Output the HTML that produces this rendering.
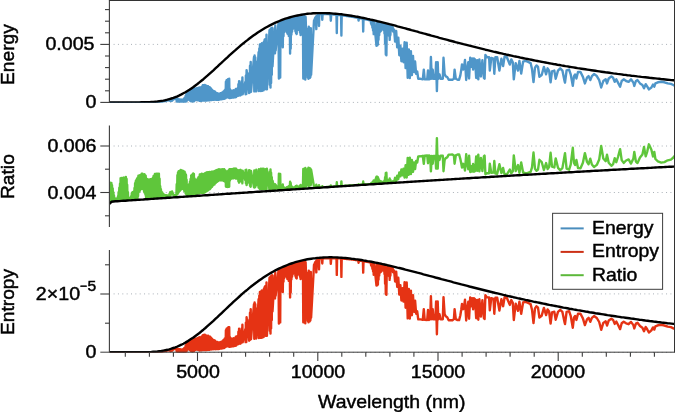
<!DOCTYPE html>
<html><head><meta charset="utf-8"><title>Spectrum</title>
<style>
html,body{margin:0;padding:0;background:#fff;}
body{width:675px;height:412px;overflow:hidden;position:relative;font-family:"Liberation Sans",sans-serif;color:#000;}
svg{position:absolute;left:0;top:0;display:block;}
.t{will-change:transform;-webkit-text-stroke:0.45px #000;position:absolute;white-space:nowrap;line-height:1;font-size:18.6px;}
.r{text-align:right;right:578.8px;transform-origin:100% 50%;transform:scaleX(1.055);}
.c{transform:translateX(-50%) scaleX(1.055);}
.v{transform-origin:0 0;transform:rotate(-90deg) scaleX(1.01);font-size:19.0px;}
.l{font-size:19.0px;transform-origin:0 50%;transform:scaleX(1.024);}
.g{font-size:18.5px;transform-origin:0 50%;transform:scaleX(1.05);}
sup{font-size:14.8px;vertical-align:baseline;position:relative;top:-8.7px;line-height:0;}
</style></head><body>
<svg width="675" height="412" viewBox="0 0 675 412">
<rect width="675" height="412" fill="#fff"/>
<line x1="113.6" x2="675" y1="44.4" y2="44.4" stroke="#aab1b8" stroke-width="1" stroke-dasharray="1 3.35"/>
<line x1="113.6" x2="675" y1="102.4" y2="102.4" stroke="#aab1b8" stroke-width="1" stroke-dasharray="1 3.35"/>
<line x1="113.6" x2="675" y1="146.0" y2="146.0" stroke="#aab1b8" stroke-width="1" stroke-dasharray="1 3.35"/>
<line x1="113.6" x2="675" y1="192.5" y2="192.5" stroke="#aab1b8" stroke-width="1" stroke-dasharray="1 3.35"/>
<line x1="113.6" x2="675" y1="293.9" y2="293.9" stroke="#aab1b8" stroke-width="1" stroke-dasharray="1 3.35"/>
<line x1="113.6" x2="675" y1="352.4" y2="352.4" stroke="#aab1b8" stroke-width="1" stroke-dasharray="1 3.35"/>
<defs><clipPath id="c1"><rect x="109.4" y="0.6" width="565.2" height="102.05"/></clipPath><clipPath id="c2"><rect x="109.4" y="125.6" width="565.2" height="101.4"/></clipPath><clipPath id="c3"><rect x="109.4" y="250" width="565.2" height="102.7"/></clipPath></defs>
<defs><clipPath id="k1"><polygon points="109.4,101.8 111.4,101.8 113.4,101.8 115.4,101.8 117.4,101.8 119.4,101.8 121.4,101.8 123.4,101.8 125.4,101.8 127.4,101.8 129.4,101.8 131.4,101.8 133.4,101.8 135.4,101.8 137.4,101.8 139.4,101.8 141.4,101.7 143.4,101.7 145.4,101.7 147.4,101.6 149.4,101.5 151.4,101.4 153.4,101.3 155.4,101.1 157.4,100.9 159.4,100.6 161.4,100.3 163.4,100.0 165.4,99.6 167.4,99.1 169.4,98.5 171.4,97.9 173.4,97.3 175.4,96.5 177.4,95.7 179.4,94.8 181.4,93.8 183.4,92.7 185.4,91.6 187.4,90.4 189.4,89.2 191.4,87.8 193.4,86.4 195.4,84.9 197.4,83.4 199.4,81.8 201.4,80.2 203.4,78.6 205.4,76.8 207.4,75.1 209.4,73.3 211.4,71.5 213.4,69.7 215.4,67.8 217.4,66.0 219.4,64.1 221.4,62.3 223.4,60.4 225.4,58.5 227.4,56.7 229.4,54.8 231.4,53.0 233.4,51.2 235.4,49.5 237.4,47.7 239.4,46.0 241.4,44.3 243.4,42.7 245.4,41.0 247.4,39.5 249.4,37.9 251.4,36.4 253.4,35.0 255.4,33.6 257.4,32.2 259.4,30.9 261.4,29.6 263.4,28.4 265.4,27.2 267.4,26.1 269.4,25.0 271.4,24.0 273.4,23.0 275.4,22.1 277.4,21.2 279.4,20.4 281.4,19.6 283.4,18.8 285.4,18.1 287.4,17.5 289.4,16.9 291.4,16.3 293.4,15.8 295.4,15.3 297.4,14.9 299.4,14.5 301.4,14.1 303.4,13.8 305.4,13.5 307.4,13.2 309.4,13.0 311.4,12.9 313.4,12.7 315.4,12.6 317.4,12.5 319.4,12.5 321.4,12.5 323.4,12.5 325.4,12.5 327.4,12.6 329.4,12.7 331.4,12.8 333.4,13.0 335.4,13.1 337.4,13.3 339.4,13.5 341.4,13.7 343.4,14.0 345.4,14.3 347.4,14.6 349.4,14.9 351.4,15.2 353.4,15.5 355.4,15.9 357.4,16.2 359.4,16.6 361.4,17.0 363.4,17.4 365.4,17.8 367.4,18.3 369.4,18.7 371.4,19.2 373.4,19.6 375.4,20.1 377.4,20.6 379.4,21.0 381.4,21.5 383.4,22.0 385.4,22.5 387.4,23.0 389.4,23.6 391.4,24.1 393.4,24.6 395.4,25.1 397.4,25.7 399.4,26.2 401.4,26.7 403.4,27.3 405.4,27.8 407.4,28.4 409.4,28.9 411.4,29.5 413.4,30.0 415.4,30.6 417.4,31.1 419.4,31.7 421.4,32.2 423.4,32.8 425.4,33.3 427.4,33.9 429.4,34.4 431.4,35.0 433.4,35.5 435.4,36.1 437.4,36.6 439.4,37.2 441.4,37.7 443.4,38.3 445.4,38.8 447.4,39.3 449.4,39.9 451.4,40.4 453.4,40.9 455.4,41.5 457.4,42.0 459.4,42.5 461.4,43.0 463.4,43.6 465.4,44.1 467.4,44.6 469.4,45.1 471.4,45.6 473.4,46.1 475.4,46.6 477.4,47.1 479.4,47.6 481.4,48.1 483.4,48.6 485.4,49.1 487.4,49.5 489.4,50.0 491.4,50.5 493.4,51.0 495.4,51.4 497.4,51.9 499.4,52.4 501.4,52.8 503.4,53.3 505.4,53.7 507.4,54.2 509.4,54.6 511.4,55.0 513.4,55.5 515.4,55.9 517.4,56.3 519.4,56.7 521.4,57.2 523.4,57.6 525.4,58.0 527.4,58.4 529.4,58.8 531.4,59.2 533.4,59.6 535.4,60.0 537.4,60.4 539.4,60.8 541.4,61.2 543.4,61.5 545.4,61.9 547.4,62.3 549.4,62.7 551.4,63.0 553.4,63.4 555.4,63.7 557.4,64.1 559.4,64.4 561.4,64.8 563.4,65.1 565.4,65.5 567.4,65.8 569.4,66.2 571.4,66.5 573.4,66.8 575.4,67.1 577.4,67.5 579.4,67.8 581.4,68.1 583.4,68.4 585.4,68.7 587.4,69.0 589.4,69.3 591.4,69.6 593.4,69.9 595.4,70.2 597.4,70.5 599.4,70.8 601.4,71.1 603.4,71.4 605.4,71.7 607.4,71.9 609.4,72.2 611.4,72.5 613.4,72.8 615.4,73.0 617.4,73.3 619.4,73.5 621.4,73.8 623.4,74.1 625.4,74.3 627.4,74.6 629.4,74.8 631.4,75.1 633.4,75.3 635.4,75.5 637.4,75.8 639.4,76.0 641.4,76.3 643.4,76.5 645.4,76.7 647.4,76.9 649.4,77.2 651.4,77.4 653.4,77.6 655.4,77.8 657.4,78.0 659.4,78.2 661.4,78.5 663.4,78.7 665.4,78.9 667.4,79.1 669.4,79.3 671.4,79.5 673.4,79.7 675.4,79.9 675.4,120.0 109.4,120.0"/></clipPath><clipPath id="k2"><polygon points="109.4,204.5 111.4,202.4 113.4,202.1 115.4,201.9 117.4,201.8 119.4,201.7 121.4,201.5 123.4,201.4 125.4,201.3 127.4,201.1 129.4,201.0 131.4,200.9 133.4,200.7 135.4,200.6 137.4,200.5 139.4,200.3 141.4,200.2 143.4,200.1 145.4,199.9 147.4,199.8 149.4,199.7 151.4,199.5 153.4,199.4 155.4,199.2 157.4,199.1 159.4,199.0 161.4,198.8 163.4,198.7 165.4,198.6 167.4,198.4 169.4,198.3 171.4,198.2 173.4,198.0 175.4,197.9 177.4,197.8 179.4,197.6 181.4,197.5 183.4,197.4 185.4,197.2 187.4,197.1 189.4,197.0 191.4,196.8 193.4,196.7 195.4,196.6 197.4,196.4 199.4,196.3 201.4,196.2 203.4,196.0 205.4,195.9 207.4,195.8 209.4,195.6 211.4,195.5 213.4,195.4 215.4,195.2 217.4,195.1 219.4,195.0 221.4,194.8 223.4,194.7 225.4,194.5 227.4,194.4 229.4,194.3 231.4,194.1 233.4,194.0 235.4,193.9 237.4,193.7 239.4,193.6 241.4,193.5 243.4,193.3 245.4,193.2 247.4,193.1 249.4,192.9 251.4,192.8 253.4,192.7 255.4,192.5 257.4,192.4 259.4,192.3 261.4,192.1 263.4,192.0 265.4,191.9 267.4,191.7 269.4,191.6 271.4,191.5 273.4,191.3 275.4,191.2 277.4,191.1 279.4,190.9 281.4,190.8 283.4,190.7 285.4,190.5 287.4,190.4 289.4,190.3 291.4,190.1 293.4,190.0 295.4,189.9 297.4,189.7 299.4,189.6 301.4,189.5 303.4,189.3 305.4,189.2 307.4,189.1 309.4,188.9 311.4,188.8 313.4,188.7 315.4,188.5 317.4,188.4 319.4,188.3 321.4,188.2 323.4,188.0 325.4,187.9 327.4,187.8 329.4,187.6 331.4,187.5 333.4,187.4 335.4,187.2 337.4,187.1 339.4,187.0 341.4,186.8 343.4,186.7 345.4,186.6 347.4,186.5 349.4,186.3 351.4,186.2 353.4,186.1 355.4,185.9 357.4,185.8 359.4,185.7 361.4,185.5 363.4,185.4 365.4,185.3 367.4,185.2 369.4,185.0 371.4,184.9 373.4,184.8 375.4,184.6 377.4,184.5 379.4,184.4 381.4,184.3 383.4,184.1 385.4,184.0 387.4,183.9 389.4,183.7 391.4,183.6 393.4,183.5 395.4,183.4 397.4,183.2 399.4,183.1 401.4,183.0 403.4,182.9 405.4,182.7 407.4,182.6 409.4,182.5 411.4,182.3 413.4,182.2 415.4,182.1 417.4,182.0 419.4,181.8 421.4,181.7 423.4,181.6 425.4,181.5 427.4,181.3 429.4,181.2 431.4,181.1 433.4,181.0 435.4,180.8 437.4,180.7 439.4,180.6 441.4,180.5 443.4,180.4 445.4,180.2 447.4,180.1 449.4,180.0 451.4,179.9 453.4,179.7 455.4,179.6 457.4,179.5 459.4,179.4 461.4,179.2 463.4,179.1 465.4,179.0 467.4,178.9 469.4,178.8 471.4,178.6 473.4,178.5 475.4,178.4 477.4,178.3 479.4,178.2 481.4,178.0 483.4,177.9 485.4,177.8 487.4,177.7 489.4,177.6 491.4,177.4 493.4,177.3 495.4,177.2 497.4,177.1 499.4,177.0 501.4,176.8 503.4,176.7 505.4,176.6 507.4,176.5 509.4,176.4 511.4,176.2 513.4,176.1 515.4,176.0 517.4,175.9 519.4,175.8 521.4,175.7 523.4,175.5 525.4,175.4 527.4,175.3 529.4,175.2 531.4,175.1 533.4,175.0 535.4,174.8 537.4,174.7 539.4,174.6 541.4,174.5 543.4,174.4 545.4,174.3 547.4,174.1 549.4,174.0 551.4,173.9 553.4,173.8 555.4,173.7 557.4,173.6 559.4,173.5 561.4,173.3 563.4,173.2 565.4,173.1 567.4,173.0 569.4,172.9 571.4,172.8 573.4,172.7 575.4,172.5 577.4,172.4 579.4,172.3 581.4,172.2 583.4,172.1 585.4,172.0 587.4,171.9 589.4,171.8 591.4,171.6 593.4,171.5 595.4,171.4 597.4,171.3 599.4,171.2 601.4,171.1 603.4,171.0 605.4,170.9 607.4,170.8 609.4,170.6 611.4,170.5 613.4,170.4 615.4,170.3 617.4,170.2 619.4,170.1 621.4,170.0 623.4,169.9 625.4,169.8 627.4,169.7 629.4,169.5 631.4,169.4 633.4,169.3 635.4,169.2 637.4,169.1 639.4,169.0 641.4,168.9 643.4,168.8 645.4,168.7 647.4,168.6 649.4,168.5 651.4,168.4 653.4,168.2 655.4,168.1 657.4,168.0 659.4,167.9 661.4,167.8 663.4,167.7 665.4,167.6 667.4,167.5 669.4,167.4 671.4,167.3 673.4,167.2 675.4,167.1 675.4,110.0 109.4,110.0"/></clipPath><clipPath id="k3"><polygon points="109.4,351.7 111.4,351.7 113.4,351.7 115.4,351.7 117.4,351.7 119.4,351.7 121.4,351.7 123.4,351.7 125.4,351.7 127.4,351.7 129.4,351.7 131.4,351.7 133.4,351.7 135.4,351.7 137.4,351.7 139.4,351.7 141.4,351.7 143.4,351.7 145.4,351.6 147.4,351.6 149.4,351.5 151.4,351.4 153.4,351.2 155.4,351.1 157.4,350.9 159.4,350.6 161.4,350.4 163.4,350.0 165.4,349.6 167.4,349.2 169.4,348.7 171.4,348.1 173.4,347.4 175.4,346.7 177.4,345.9 179.4,345.0 181.4,344.1 183.4,343.1 185.4,342.0 187.4,340.8 189.4,339.5 191.4,338.2 193.4,336.9 195.4,335.4 197.4,333.9 199.4,332.4 201.4,330.7 203.4,329.1 205.4,327.4 207.4,325.6 209.4,323.8 211.4,322.0 213.4,320.2 215.4,318.3 217.4,316.5 219.4,314.6 221.4,312.7 223.4,310.8 225.4,308.9 227.4,307.0 229.4,305.1 231.4,303.2 233.4,301.3 235.4,299.5 237.4,297.7 239.4,295.9 241.4,294.1 243.4,292.3 245.4,290.6 247.4,289.0 249.4,287.3 251.4,285.7 253.4,284.2 255.4,282.6 257.4,281.2 259.4,279.7 261.4,278.3 263.4,277.0 265.4,275.7 267.4,274.4 269.4,273.2 271.4,272.0 273.4,270.9 275.4,269.8 277.4,268.8 279.4,267.8 281.4,266.9 283.4,266.0 285.4,265.2 287.4,264.4 289.4,263.6 291.4,262.9 293.4,262.2 295.4,261.6 297.4,261.0 299.4,260.5 301.4,260.0 303.4,259.5 305.4,259.1 307.4,258.7 309.4,258.4 311.4,258.1 313.4,257.8 315.4,257.6 317.4,257.3 319.4,257.2 321.4,257.0 323.4,256.9 325.4,256.8 327.4,256.8 329.4,256.7 331.4,256.7 333.4,256.8 335.4,256.8 337.4,256.9 339.4,257.0 341.4,257.1 343.4,257.3 345.4,257.4 347.4,257.6 349.4,257.8 351.4,258.1 353.4,258.3 355.4,258.6 357.4,258.8 359.4,259.1 361.4,259.4 363.4,259.8 365.4,260.1 367.4,260.5 369.4,260.8 371.4,261.2 373.4,261.6 375.4,262.0 377.4,262.4 379.4,262.8 381.4,263.2 383.4,263.7 385.4,264.1 387.4,264.6 389.4,265.0 391.4,265.5 393.4,266.0 395.4,266.5 397.4,267.0 399.4,267.4 401.4,267.9 403.4,268.4 405.4,269.0 407.4,269.5 409.4,270.0 411.4,270.5 413.4,271.0 415.4,271.5 417.4,272.1 419.4,272.6 421.4,273.1 423.4,273.7 425.4,274.2 427.4,274.7 429.4,275.3 431.4,275.8 433.4,276.3 435.4,276.9 437.4,277.4 439.4,277.9 441.4,278.5 443.4,279.0 445.4,279.5 447.4,280.1 449.4,280.6 451.4,281.1 453.4,281.7 455.4,282.2 457.4,282.7 459.4,283.2 461.4,283.8 463.4,284.3 465.4,284.8 467.4,285.3 469.4,285.9 471.4,286.4 473.4,286.9 475.4,287.4 477.4,287.9 479.4,288.4 481.4,288.9 483.4,289.4 485.4,289.9 487.4,290.4 489.4,290.9 491.4,291.4 493.4,291.9 495.4,292.4 497.4,292.8 499.4,293.3 501.4,293.8 503.4,294.3 505.4,294.7 507.4,295.2 509.4,295.7 511.4,296.1 513.4,296.6 515.4,297.0 517.4,297.5 519.4,297.9 521.4,298.4 523.4,298.8 525.4,299.3 527.4,299.7 529.4,300.1 531.4,300.5 533.4,301.0 535.4,301.4 537.4,301.8 539.4,302.2 541.4,302.6 543.4,303.0 545.4,303.4 547.4,303.9 549.4,304.3 551.4,304.6 553.4,305.0 555.4,305.4 557.4,305.8 559.4,306.2 561.4,306.6 563.4,307.0 565.4,307.3 567.4,307.7 569.4,308.1 571.4,308.4 573.4,308.8 575.4,309.1 577.4,309.5 579.4,309.8 581.4,310.2 583.4,310.5 585.4,310.9 587.4,311.2 589.4,311.6 591.4,311.9 593.4,312.2 595.4,312.6 597.4,312.9 599.4,313.2 601.4,313.5 603.4,313.8 605.4,314.1 607.4,314.5 609.4,314.8 611.4,315.1 613.4,315.4 615.4,315.7 617.4,316.0 619.4,316.3 621.4,316.6 623.4,316.8 625.4,317.1 627.4,317.4 629.4,317.7 631.4,318.0 633.4,318.2 635.4,318.5 637.4,318.8 639.4,319.1 641.4,319.3 643.4,319.6 645.4,319.9 647.4,320.1 649.4,320.4 651.4,320.6 653.4,320.9 655.4,321.1 657.4,321.4 659.4,321.6 661.4,321.9 663.4,322.1 665.4,322.3 667.4,322.6 669.4,322.8 671.4,323.0 673.4,323.3 675.4,323.5 675.4,370.0 109.4,370.0"/></clipPath></defs>
<g clip-path="url(#c1)" fill="none" stroke-linejoin="round" stroke-linecap="butt">
<g clip-path="url(#k1)"><path d="M109.4 102.4 L109.7 102.4 L110.1 102.4 L110.4 102.4 L110.7 102.4 L111.0 102.4 L111.4 102.4 L111.7 102.4 L112.0 102.4 L112.4 102.4 L112.7 102.4 L113.0 102.4 L113.4 102.4 L113.7 102.4 L114.0 102.4 L114.3 102.4 L114.7 102.4 L115.0 102.4 L115.3 102.4 L115.7 102.4 L116.0 102.4 L116.3 102.4 L116.7 102.4 L117.0 102.4 L117.3 102.4 L117.6 102.4 L118.0 102.4 L118.3 102.4 L118.6 102.4 L119.0 102.4 L119.3 102.4 L119.6 102.4 L120.0 102.4 L120.3 102.4 L120.6 102.4 L120.9 102.4 L121.3 102.4 L121.6 102.4 L121.9 102.4 L122.3 102.4 L122.6 102.4 L122.9 102.4 L123.3 102.4 L123.6 102.4 L123.9 102.4 L124.2 102.4 L124.6 102.4 L124.9 102.4 L125.2 102.4 L125.6 102.4 L125.9 102.4 L126.2 102.4 L126.6 102.4 L126.9 102.4 L127.2 102.4 L127.5 102.4 L127.9 102.4 L128.2 102.4 L128.5 102.4 L128.9 102.4 L129.2 102.4 L129.5 102.4 L129.9 102.4 L130.2 102.4 L130.5 102.4 L130.9 102.4 L131.2 102.4 L131.5 102.4 L131.8 102.4 L132.2 102.4 L132.5 102.4 L132.8 102.4 L133.2 102.4 L133.5 102.4 L133.8 102.4 L134.2 102.4 L134.5 102.4 L134.8 102.4 L135.1 102.4 L135.5 102.4 L135.8 102.4 L136.1 102.4 L136.5 102.4 L136.8 102.4 L137.1 102.4 L137.5 102.4 L137.8 102.4 L138.1 102.4 L138.4 102.4 L138.8 102.4 L139.1 102.4 L139.4 102.4 L139.8 102.4 L140.1 102.4 L140.4 102.4 L140.8 102.4 L141.1 102.4 L141.4 102.4 L141.7 102.4 L142.1 102.4 L142.4 102.4 L142.7 102.4 L143.1 102.4 L143.4 102.4 L143.7 102.4 L144.1 102.4 L144.4 102.4 L144.7 102.4 L145.0 102.4 L145.4 102.3 L145.7 102.4 L146.0 102.3 L146.4 102.4 L146.7 102.2 L147.0 102.4 L147.4 102.2 L147.7 102.4 L148.0 102.2 L148.3 102.4 L148.7 102.2 L149.0 102.4 L149.3 102.2 L149.7 102.4 L150.0 102.1 L150.3 102.4 L150.7 102.0 L151.0 102.4 L151.3 102.0 L151.6 102.4 L152.0 102.0 L152.3 102.4 L152.6 101.9 L153.0 102.4 L153.3 101.9 L153.6 102.4 L154.0 101.8 L154.3 102.4 L154.6 101.8 L154.9 102.4 L155.3 101.8 L155.6 102.4 L155.9 101.7 L156.3 102.4 L156.6 101.6 L156.9 102.4 L157.3 101.8 L157.6 102.4 L157.9 101.4 L158.2 102.4 L158.6 101.4 L158.9 102.4 L159.2 101.3 L159.6 102.4 L159.9 101.2 L160.2 102.3 L160.6 101.1 L160.9 102.1 L161.2 101.0 L161.5 101.9 L161.9 100.8 L162.2 101.8 L162.5 100.8 L162.9 101.6 L163.2 100.7 L163.5 101.5 L163.9 100.5 L164.2 101.3 L164.5 100.4 L164.8 101.1 L165.2 100.2 L165.5 101.0 L165.8 100.1 L166.2 100.9 L166.5 99.9 L166.8 100.7 L167.2 99.8 L167.5 100.5 L167.8 99.7 L168.1 100.3 L168.5 99.4 L168.8 100.3 L169.1 99.3 L169.5 100.6 L169.8 99.1 L170.1 100.9 L170.5 99.6 L170.8 100.9 L171.1 100.1 L171.4 100.9 L171.8 100.2 L172.1 100.8 L172.4 100.2 L172.8 100.2 L173.1 99.4 L173.4 99.3 L173.8 98.8 L174.1 99.1 L174.4 98.6 L174.7 98.9 L175.1 98.3 L175.4 98.7 L175.7 98.1 L176.1 98.4 L176.4 97.9 L176.7 101.6 L177.1 98.7 L177.4 102.2 L177.7 98.7 L178.0 102.2 L178.4 99.1 L178.7 102.2 L179.0 99.6 L179.4 102.2 L179.7 99.4 L180.0 102.2 L180.4 99.6 L180.7 102.2 L181.0 99.7 L181.3 102.2 L181.7 99.8 L182.0 102.2 L182.3 99.7 L182.7 102.2 L183.0 99.4 L183.3 102.1 L183.7 99.3 L184.0 102.1 L184.3 98.1 L184.6 102.1 L185.0 97.7 L185.3 102.0 L185.6 96.0 L186.0 101.8 L186.3 94.3 L186.6 101.3 L187.0 91.6 L187.3 100.0 L187.6 91.3 L187.9 99.7 L188.3 91.3 L188.6 99.3 L188.9 91.0 L189.3 100.0 L189.6 89.8 L189.9 100.5 L190.3 91.0 L190.6 101.0 L190.9 89.0 L191.2 101.5 L191.6 88.5 L191.9 101.4 L192.2 90.9 L192.6 101.5 L192.9 87.4 L193.2 101.6 L193.6 87.5 L193.9 101.5 L194.2 87.0 L194.5 100.7 L194.9 88.6 L195.2 100.3 L195.5 90.0 L195.9 100.1 L196.2 90.4 L196.5 99.7 L196.9 88.3 L197.2 100.0 L197.5 89.2 L197.8 100.2 L198.2 88.0 L198.5 100.4 L198.8 90.2 L199.2 100.5 L199.5 87.4 L199.8 100.9 L200.2 88.5 L200.5 100.8 L200.8 90.1 L201.1 100.6 L201.5 86.9 L201.8 100.8 L202.1 88.3 L202.5 100.6 L202.8 85.3 L203.1 100.5 L203.5 85.1 L203.8 100.5 L204.1 85.5 L204.4 100.3 L204.8 84.9 L205.1 100.5 L205.4 85.3 L205.8 100.5 L206.1 87.3 L206.4 100.5 L206.8 86.0 L207.1 100.5 L207.4 86.7 L207.7 100.4 L208.1 86.3 L208.4 100.3 L208.7 87.3 L209.1 100.2 L209.4 87.3 L209.7 100.2 L210.1 87.5 L210.4 100.1 L210.7 88.2 L211.0 99.9 L211.4 90.9 L211.7 100.1 L212.0 89.6 L212.4 99.9 L212.7 91.0 L213.0 99.5 L213.4 91.0 L213.7 99.9 L214.0 91.4 L214.3 99.8 L214.7 91.4 L215.0 99.6 L215.3 92.7 L215.7 99.8 L216.0 92.7 L216.3 99.7 L216.7 93.9 L217.0 99.8 L217.3 93.1 L217.6 99.7 L218.0 93.5 L218.3 99.7 L218.6 94.1 L219.0 99.7 L219.3 93.9 L219.6 99.6 L220.0 93.5 L220.3 99.4 L220.6 93.3 L220.9 99.4 L221.3 93.2 L221.6 99.3 L221.9 92.8 L222.3 99.0 L222.6 92.6 L222.9 99.1 L223.3 91.8 L223.6 98.9 L223.9 91.8 L224.2 98.9 L224.6 90.4 L224.9 98.5 L225.2 89.8 L225.6 98.2 L225.9 81.8 L226.2 97.7 L226.6 80.3 L226.9 96.7 L227.2 80.6 L227.5 97.0 L227.9 79.2 L228.2 97.6 L228.5 78.9 L228.9 97.4 L229.2 78.8 L229.5 98.0 L229.9 89.1 L230.2 98.0 L230.5 90.5 L230.8 97.8 L231.2 90.7 L231.5 97.8 L231.8 90.7 L232.2 96.8 L232.5 90.6 L232.8 97.6 L233.2 90.5 L233.5 97.6 L233.8 90.3 L234.1 97.4 L234.5 90.6 L234.8 97.3 L235.1 90.4 L235.5 97.3 L235.8 89.0 L236.1 97.1 L236.5 89.2 L236.8 96.3 L237.1 88.6 L237.4 95.2 L237.8 88.3 L238.1 95.9 L238.4 84.2 L238.8 95.3 L239.1 81.1 L239.4 95.4 L239.8 83.1 L240.1 95.5 L240.4 86.8 L240.7 95.3 L241.1 85.6 L241.4 94.6 L241.7 81.2 L242.1 94.1 L242.4 77.4 L242.7 94.3 L245.3 82.0 L245.6 94.2 L245.9 75.5 L246.3 94.1 L246.6 70.1 L249.1 93.1 L249.4 73.0 L249.7 92.4 L250.0 65.8 L250.4 92.1 L250.7 62.0 L251.0 91.8 L254.0 57.0 L254.3 91.4 L254.6 55.4 L255.0 87.6 L255.3 57.4 L255.6 90.4 L256.0 61.7 L256.3 91.4 L258.6 52.2 L258.9 91.1 L259.3 48.5 L259.6 90.1 L259.9 44.5 L260.3 90.4 L260.6 47.2 L260.9 91.0 L261.3 44.0 L261.6 89.9 L261.9 43.2 L262.2 90.8 L262.6 43.9 L262.9 89.2 L263.2 43.3 L263.6 90.2 L263.9 41.6 L264.2 88.9 L264.6 39.8 L264.9 89.0 L265.2 39.1 L265.5 88.6 L265.9 39.4 L266.2 89.3 L266.5 34.8 L266.9 89.4 L269.5 30.1 L269.8 84.8 L270.1 29.6 L270.5 87.5 L270.8 28.6 L271.1 83.0 L271.5 28.0 L271.8 74.7 L272.1 27.6 L272.5 66.4 L274.7 28.2 L275.0 53.2 L275.3 25.4 L275.6 50.5 L278.5 23.3 L278.9 78.5 L279.2 22.8 L279.5 77.6 L279.8 22.6 L280.2 77.6 L280.5 22.8 L280.8 36.7 L281.2 21.6 L281.5 35.5 L281.8 21.8 L282.2 38.2 L282.5 21.6 L282.8 47.3 L283.1 21.0 L283.5 36.3 L283.8 20.9 L284.1 32.4 L284.5 20.5 L284.8 28.7 L285.1 20.8 L285.5 26.1 L285.8 20.2 L286.1 30.5 L286.4 19.7 L286.8 32.1 L287.1 19.9 L287.4 33.5 L287.8 19.2 L288.1 33.9 L288.4 19.3 L288.8 35.9 L289.1 19.1 L289.4 36.2 L289.7 19.1 L290.1 53.5 L290.4 19.2 L290.7 48.4 L291.1 18.3 L291.4 34.7 L291.7 19.2 L292.1 31.7 L292.4 18.2 L292.7 29.3 L293.0 17.6 L293.4 25.3 L293.7 17.7 L294.0 23.1 L294.4 17.8 L294.7 28.2 L295.0 17.3 L295.4 31.3 L295.7 17.2 L296.0 33.1 L296.3 19.0 L296.7 34.1 L297.0 16.7 L297.3 30.4 L297.7 17.2 L298.0 23.0 L298.3 16.4 L298.7 23.3 L299.0 16.6 L299.3 30.0 L299.6 16.4 L300.0 32.5 L300.3 17.1 L300.6 35.1 L301.0 16.3 L301.3 26.8 L301.6 16.2 L302.0 19.7 L302.3 15.8 L302.6 17.4 L302.9 15.7 L303.3 78.6 L303.6 15.6 L303.9 71.6 L304.3 16.0 L304.6 78.3 L304.9 18.8 L305.3 79.5 L305.6 17.0 L307.8 77.6 L308.1 28.8 L308.5 78.8 L308.8 26.8 L309.1 78.1 L309.5 29.7 L309.8 77.9 L310.1 30.1 L310.4 77.1 L310.8 28.2 L311.1 74.9 L314.0 20.5 L314.3 24.5 L314.7 19.1 L315.0 18.3 L315.3 17.6 L315.7 23.6 L316.0 16.6 L316.3 29.1 L316.7 15.8 L317.0 18.4 L317.3 15.4 L317.6 15.2 L318.0 15.1 L318.3 14.9 L318.6 14.8 L319.0 26.0 L319.3 14.5 L319.6 14.2 L320.0 14.0 L320.3 14.0 L320.6 14.0 L320.9 14.0 L321.3 14.0 L321.6 14.0 L321.9 14.0 L322.3 19.8 L322.6 14.0 L322.9 14.0 L323.3 14.0 L323.6 14.0 L323.9 14.0 L324.2 14.0 L324.6 14.0 L324.9 14.0 L325.2 14.0 L325.6 14.0 L325.9 14.0 L326.2 14.1 L326.6 14.1 L326.9 14.1 L327.2 14.1 L327.5 14.1 L327.9 14.1 L328.2 14.1 L328.5 14.1 L328.9 14.2 L329.2 14.2 L329.5 14.2 L329.9 14.2 L330.2 14.2 L330.5 14.3 L330.8 20.7 L331.2 15.1 L331.5 14.3 L331.8 14.3 L332.2 14.4 L332.5 14.4 L332.8 14.4 L333.2 14.4 L333.5 14.5 L333.8 14.5 L334.1 14.5 L334.5 14.5 L334.8 14.6 L335.1 14.6 L335.5 14.6 L335.8 14.7 L336.1 14.7 L336.5 15.1 L336.8 33.1 L337.1 14.8 L337.4 14.8 L337.8 14.8 L338.1 14.9 L338.4 14.9 L338.8 15.0 L339.1 15.0 L339.4 15.0 L339.8 15.1 L340.1 15.1 L340.4 15.1 L340.7 15.2 L341.1 15.7 L341.4 35.5 L341.7 15.3 L342.1 15.3 L342.4 15.4 L342.7 15.4 L343.1 15.5 L343.4 15.5 L343.7 15.5 L344.0 15.6 L344.4 15.6 L344.7 15.7 L345.0 15.7 L345.4 15.8 L345.7 15.8 L346.0 15.9 L346.4 15.9 L346.7 16.0 L347.0 16.0 L347.3 16.1 L347.7 16.1 L348.0 16.1 L348.3 16.2 L348.7 16.3 L349.0 16.3 L349.3 16.4 L349.7 16.4 L350.0 16.5 L350.3 16.5 L350.6 16.6 L351.0 16.6 L351.3 16.7 L351.6 16.7 L352.0 16.8 L352.3 16.8 L352.6 16.9 L353.0 16.9 L353.3 17.0 L353.6 17.1 L353.9 17.1 L354.3 17.2 L354.6 17.2 L354.9 17.3 L355.3 17.4 L355.6 17.4 L355.9 17.5 L356.3 17.5 L356.6 17.6 L356.9 17.7 L357.2 17.7 L357.6 17.8 L357.9 17.8 L358.2 17.9 L358.6 20.5 L358.9 18.1 L359.2 18.1 L359.6 18.2 L359.9 18.2 L360.2 18.3 L360.5 18.3 L360.9 18.4 L361.2 18.5 L361.5 18.5 L361.9 18.6 L362.2 18.7 L362.5 18.7 L362.9 18.8 L363.2 31.5 L363.5 18.9 L363.8 19.0 L364.2 19.1 L364.5 19.2 L364.8 19.2 L365.2 19.3 L365.5 19.4 L365.8 19.4 L366.2 19.5 L366.5 19.6 L366.8 19.6 L367.1 19.7 L367.5 19.8 L367.8 19.9 L368.1 19.9 L368.5 20.0 L368.8 20.1 L369.1 20.1 L369.5 20.2 L369.8 20.3 L370.1 20.4 L370.4 20.4 L370.8 20.6 L371.1 23.8 L371.4 20.7 L371.8 25.2 L372.1 21.0 L372.4 27.7 L372.8 21.1 L373.1 30.6 L373.4 21.2 L373.7 34.1 L374.1 21.4 L376.5 45.8 L376.9 22.0 L377.2 45.4 L377.5 22.3 L377.9 44.6 L378.2 22.3 L378.5 39.7 L378.8 22.7 L379.2 35.2 L379.5 22.8 L379.8 32.3 L380.2 22.7 L380.5 31.5 L380.8 23.1 L381.2 30.8 L381.5 23.3 L381.8 29.8 L382.1 23.3 L382.5 28.2 L382.8 23.4 L383.1 27.2 L383.5 23.8 L383.8 30.0 L384.1 24.0 L384.5 33.7 L384.8 24.0 L385.1 43.8 L385.4 25.4 L385.8 54.6 L386.1 25.1 L386.4 55.3 L386.8 25.1 L387.1 35.7 L387.4 24.9 L387.8 32.7 L388.1 24.8 L388.4 32.2 L388.7 25.2 L389.1 36.0 L389.4 25.4 L389.7 39.9 L390.1 25.2 L390.4 35.4 L390.7 25.8 L391.1 30.0 L391.4 25.8 L391.7 29.1 L392.0 26.0 L392.4 29.4 L392.7 27.1 L393.0 31.5 L394.1 29.5 L395.1 41.6 L396.2 31.0 L397.2 47.4 L398.3 37.6 L399.3 55.3 L400.4 45.7 L401.4 61.2 L402.5 48.7 L403.5 62.2 L404.6 42.3 L405.6 68.1 L406.7 42.7 L407.7 77.8 L408.8 49.4 L409.8 78.1 L410.9 51.2 L411.9 75.1 L413.0 55.9 L414.0 72.0 L415.1 61.5 L416.1 73.8 L417.2 71.5 L418.2 78.5 L418.3 78.8 L420.6 78.8 L422.8 79.3 L423.8 69.6 L424.7 79.3 L427.2 79.4 L428.0 70.4 L428.9 79.4 L430.2 78.8 L430.9 57.0 L431.8 78.8 L432.7 69.6 L433.6 78.8 L435.4 78.8 L436.1 62.2 L436.9 91.1 L437.7 62.2 L438.3 78.8 L439.5 74.4 L440.6 78.8 L442.8 78.8 L443.5 57.8 L444.6 74.1 L445.7 76.3 L447.2 77.0 L448.7 79.7 L450.2 79.7 L452.4 79.7 L453.9 78.8 L454.6 69.6 L455.8 78.8 L457.6 79.7 L459.1 79.7 L460.3 75.6 L461.3 69.6 L462.0 64.4 L463.2 69.6 L464.3 65.2 L465.0 60.0 L466.2 80.0 L467.2 69.6 L468.3 62.2 L469.1 78.5 L470.2 57.8 L471.2 66.7 L472.1 58.5 L473.1 69.6 L473.9 58.5 L475.0 59.4 L476.2 78.0 L477.2 60.2 L478.3 79.4 L479.4 59.4 L480.9 76.5 L482.4 60.2 L483.9 78.0 L484.6 78.7 L485.4 55.0 L486.9 57.2 L489.1 57.2 L489.8 70.6 L491.3 58.0 L493.5 58.7 L494.3 73.8 L495.4 57.2 L497.2 57.2 L499.4 70.6 L501.4 58.7 L503.1 66.1 L504.6 56.5 L506.9 57.2 L509.8 64.6 L511.3 59.4 L512.8 62.4 L513.8 79.4 L515.7 63.1 L518.0 70.6 L519.4 60.9 L521.2 73.5 L523.1 61.7 L525.4 60.9 L527.6 61.7 L530.6 63.1 L532.0 69.1 L533.5 82.1 L535.0 67.6 L536.5 65.4 L538.0 66.9 L539.4 76.8 L541.7 75.0 L543.9 66.9 L546.1 74.3 L547.6 68.3 L549.1 70.6 L550.6 82.4 L552.0 71.3 L554.3 70.6 L555.7 78.7 L558.0 70.6 L560.2 68.3 L562.4 70.6 L564.6 81.2 L565.0 82.6 L566.6 70.4 L569.1 69.6 L570.7 74.4 L572.8 85.9 L574.0 76.1 L575.1 74.4 L576.4 78.5 L578.0 72.0 L580.5 72.0 L582.9 76.9 L584.9 83.4 L587.0 77.7 L588.6 76.1 L590.3 80.1 L591.9 76.1 L594.0 74.1 L596.8 76.1 L599.2 80.1 L601.2 87.5 L603.3 81.0 L605.7 79.3 L607.0 83.4 L608.7 78.5 L611.4 76.4 L613.1 77.7 L614.7 81.8 L616.3 79.3 L618.0 82.6 L620.1 86.7 L621.7 81.0 L623.7 79.3 L626.1 81.0 L628.6 81.8 L631.0 79.3 L633.4 82.6 L634.3 85.9 L635.9 81.0 L637.5 80.1 L640.0 83.4 L642.4 85.0 L644.0 88.3 L645.7 84.2 L647.3 86.7 L648.9 89.4 L651.4 87.5 L653.0 84.6 L654.3 86.7 L655.4 83.4 L657.9 82.3 L661.2 81.8 L664.4 82.3 L667.7 83.4 L670.9 83.9 L673.4 85.0 L675.0 86.0" stroke="#4f96c9" stroke-width="2.4"/></g>
<path d="M109.4 102.4 L111.4 102.4 L113.4 102.4 L115.4 102.4 L117.4 102.4 L119.4 102.4 L121.4 102.4 L123.4 102.4 L125.4 102.4 L127.4 102.4 L129.4 102.4 L131.4 102.4 L133.4 102.4 L135.4 102.4 L137.4 102.4 L139.4 102.4 L141.4 102.3 L143.4 102.3 L145.4 102.3 L147.4 102.2 L149.4 102.1 L151.4 102.0 L153.4 101.9 L155.4 101.7 L157.4 101.5 L159.4 101.2 L161.4 100.9 L163.4 100.6 L165.4 100.2 L167.4 99.7 L169.4 99.1 L171.4 98.5 L173.4 97.9 L175.4 97.1 L177.4 96.3 L179.4 95.4 L181.4 94.4 L183.4 93.3 L185.4 92.2 L187.4 91.0 L189.4 89.8 L191.4 88.4 L193.4 87.0 L195.4 85.5 L197.4 84.0 L199.4 82.4 L201.4 80.8 L203.4 79.2 L205.4 77.4 L207.4 75.7 L209.4 73.9 L211.4 72.1 L213.4 70.3 L215.4 68.4 L217.4 66.6 L219.4 64.7 L221.4 62.9 L223.4 61.0 L225.4 59.1 L227.4 57.3 L229.4 55.4 L231.4 53.6 L233.4 51.8 L235.4 50.1 L237.4 48.3 L239.4 46.6 L241.4 44.9 L243.4 43.3 L245.4 41.6 L247.4 40.1 L249.4 38.5 L251.4 37.0 L253.4 35.6 L255.4 34.2 L257.4 32.8 L259.4 31.5 L261.4 30.2 L263.4 29.0 L265.4 27.8 L267.4 26.7 L269.4 25.6 L271.4 24.6 L273.4 23.6 L275.4 22.7 L277.4 21.8 L279.4 21.0 L281.4 20.2 L283.4 19.4 L285.4 18.7 L287.4 18.1 L289.4 17.5 L291.4 16.9 L293.4 16.4 L295.4 15.9 L297.4 15.5 L299.4 15.1 L301.4 14.7 L303.4 14.4 L305.4 14.1 L307.4 13.8 L309.4 13.6 L311.4 13.5 L313.4 13.3 L315.4 13.2 L317.4 13.1 L319.4 13.1 L321.4 13.1 L323.4 13.1 L325.4 13.1 L327.4 13.2 L329.4 13.3 L331.4 13.4 L333.4 13.6 L335.4 13.7 L337.4 13.9 L339.4 14.1 L341.4 14.3 L343.4 14.6 L345.4 14.9 L347.4 15.2 L349.4 15.5 L351.4 15.8 L353.4 16.1 L355.4 16.5 L357.4 16.8 L359.4 17.2 L361.4 17.6 L363.4 18.0 L365.4 18.4 L367.4 18.9 L369.4 19.3 L371.4 19.8 L373.4 20.2 L375.4 20.7 L377.4 21.2 L379.4 21.6 L381.4 22.1 L383.4 22.6 L385.4 23.1 L387.4 23.6 L389.4 24.2 L391.4 24.7 L393.4 25.2 L395.4 25.7 L397.4 26.3 L399.4 26.8 L401.4 27.3 L403.4 27.9 L405.4 28.4 L407.4 29.0 L409.4 29.5 L411.4 30.1 L413.4 30.6 L415.4 31.2 L417.4 31.7 L419.4 32.3 L421.4 32.8 L423.4 33.4 L425.4 33.9 L427.4 34.5 L429.4 35.0 L431.4 35.6 L433.4 36.1 L435.4 36.7 L437.4 37.2 L439.4 37.8 L441.4 38.3 L443.4 38.9 L445.4 39.4 L447.4 39.9 L449.4 40.5 L451.4 41.0 L453.4 41.5 L455.4 42.1 L457.4 42.6 L459.4 43.1 L461.4 43.6 L463.4 44.2 L465.4 44.7 L467.4 45.2 L469.4 45.7 L471.4 46.2 L473.4 46.7 L475.4 47.2 L477.4 47.7 L479.4 48.2 L481.4 48.7 L483.4 49.2 L485.4 49.7 L487.4 50.1 L489.4 50.6 L491.4 51.1 L493.4 51.6 L495.4 52.0 L497.4 52.5 L499.4 53.0 L501.4 53.4 L503.4 53.9 L505.4 54.3 L507.4 54.8 L509.4 55.2 L511.4 55.6 L513.4 56.1 L515.4 56.5 L517.4 56.9 L519.4 57.3 L521.4 57.8 L523.4 58.2 L525.4 58.6 L527.4 59.0 L529.4 59.4 L531.4 59.8 L533.4 60.2 L535.4 60.6 L537.4 61.0 L539.4 61.4 L541.4 61.8 L543.4 62.1 L545.4 62.5 L547.4 62.9 L549.4 63.3 L551.4 63.6 L553.4 64.0 L555.4 64.3 L557.4 64.7 L559.4 65.0 L561.4 65.4 L563.4 65.7 L565.4 66.1 L567.4 66.4 L569.4 66.8 L571.4 67.1 L573.4 67.4 L575.4 67.7 L577.4 68.1 L579.4 68.4 L581.4 68.7 L583.4 69.0 L585.4 69.3 L587.4 69.6 L589.4 69.9 L591.4 70.2 L593.4 70.5 L595.4 70.8 L597.4 71.1 L599.4 71.4 L601.4 71.7 L603.4 72.0 L605.4 72.3 L607.4 72.5 L609.4 72.8 L611.4 73.1 L613.4 73.4 L615.4 73.6 L617.4 73.9 L619.4 74.1 L621.4 74.4 L623.4 74.7 L625.4 74.9 L627.4 75.2 L629.4 75.4 L631.4 75.7 L633.4 75.9 L635.4 76.1 L637.4 76.4 L639.4 76.6 L641.4 76.9 L643.4 77.1 L645.4 77.3 L647.4 77.5 L649.4 77.8 L651.4 78.0 L653.4 78.2 L655.4 78.4 L657.4 78.6 L659.4 78.8 L661.4 79.1 L663.4 79.3 L665.4 79.5 L667.4 79.7 L669.4 79.9 L671.4 80.1 L673.4 80.3 L675.4 80.5" stroke="#000" stroke-width="2.4"/>
</g>
<g clip-path="url(#c2)" fill="none" stroke-linejoin="round" stroke-linecap="butt">
<g clip-path="url(#k2)"><path d="M109.4 182.3 L109.7 203.7 L110.1 182.8 L110.4 200.8 L110.7 184.1 L111.0 201.0 L111.4 183.0 L111.7 199.6 L112.0 185.1 L112.4 200.5 L112.7 188.4 L113.0 201.3 L113.4 192.4 L113.7 201.4 L114.0 195.5 L114.3 201.3 L114.7 198.9 L115.0 201.3 L115.3 198.8 L115.7 201.2 L116.0 198.7 L116.3 201.3 L116.7 198.8 L117.0 201.2 L117.3 198.7 L117.6 201.2 L118.0 196.3 L118.3 201.0 L118.6 192.1 L119.0 200.5 L119.3 187.8 L119.6 200.4 L120.0 183.7 L120.3 200.9 L120.6 178.1 L120.9 200.6 L121.3 177.9 L121.6 199.6 L121.9 178.2 L122.3 199.7 L122.6 178.8 L122.9 200.2 L123.3 177.6 L123.6 200.2 L123.9 177.7 L124.2 199.5 L124.6 179.0 L124.9 200.5 L125.2 177.5 L125.6 200.1 L125.9 177.0 L126.2 200.4 L126.6 178.9 L126.9 200.2 L127.2 184.8 L127.5 199.3 L127.9 192.1 L128.2 200.3 L128.5 198.0 L128.9 200.3 L129.2 198.0 L129.5 200.3 L129.9 198.0 L130.2 200.2 L130.5 198.1 L130.9 200.1 L131.2 196.2 L131.5 200.2 L131.8 193.3 L132.2 200.0 L132.5 192.3 L132.8 199.9 L133.2 192.1 L133.5 200.1 L133.8 191.5 L134.2 199.8 L134.5 188.0 L134.8 199.6 L135.1 183.2 L135.5 198.7 L135.8 181.0 L136.1 199.8 L136.5 179.6 L136.8 199.5 L137.1 178.4 L137.5 198.4 L137.8 177.7 L138.1 195.9 L138.4 175.8 L138.8 192.2 L139.1 176.4 L139.4 191.4 L139.8 175.1 L140.1 190.5 L140.4 174.9 L140.8 188.9 L141.1 174.6 L141.4 188.7 L141.7 173.7 L142.1 187.8 L142.4 173.8 L142.7 189.0 L143.1 174.1 L143.4 189.1 L143.7 174.8 L144.1 191.6 L144.4 174.1 L144.7 192.7 L145.0 175.1 L145.4 194.4 L145.7 175.7 L146.0 196.9 L146.4 179.0 L146.7 198.3 L147.0 178.9 L147.4 199.1 L147.7 179.1 L148.0 198.8 L148.3 179.4 L148.7 198.8 L149.0 180.3 L149.3 198.2 L149.7 179.4 L150.0 198.3 L150.3 179.2 L150.7 198.9 L151.0 179.3 L151.3 198.7 L151.6 179.5 L152.0 198.8 L152.3 178.7 L152.6 198.6 L153.0 177.6 L153.3 198.0 L153.6 175.9 L154.0 198.5 L154.3 175.4 L154.6 198.4 L154.9 174.0 L155.3 197.8 L155.6 174.5 L155.9 198.4 L156.3 173.8 L156.6 198.6 L156.9 175.4 L157.3 196.2 L157.6 173.7 L157.9 198.3 L158.2 174.4 L158.6 197.9 L158.9 173.8 L159.2 198.1 L159.6 178.8 L159.9 198.3 L160.2 186.2 L160.6 198.2 L160.9 189.1 L161.2 198.2 L161.5 191.6 L161.9 198.2 L162.2 192.4 L162.5 198.0 L162.9 193.7 L163.2 198.0 L163.5 194.1 L163.9 198.0 L164.2 194.7 L164.5 198.0 L164.8 195.0 L165.2 197.9 L165.5 195.1 L165.8 197.9 L166.2 195.3 L166.5 197.9 L166.8 195.4 L167.2 197.8 L167.5 195.5 L167.8 197.6 L168.1 195.7 L168.5 197.8 L168.8 195.5 L169.1 197.7 L169.5 193.9 L169.8 197.6 L170.1 192.2 L170.5 196.0 L170.8 191.9 L171.1 194.4 L171.4 191.6 L171.8 193.7 L172.1 191.4 L172.4 193.2 L172.8 193.1 L173.1 194.9 L173.4 195.0 L173.8 195.7 L174.1 195.0 L174.4 195.7 L174.7 195.0 L175.1 195.7 L175.4 195.0 L175.7 195.7 L176.1 195.0 L176.4 195.6 L176.7 184.3 L177.1 194.0 L177.4 175.1 L177.7 193.7 L178.0 172.4 L178.4 192.4 L178.7 171.2 L179.0 190.8 L179.4 171.7 L179.7 190.9 L180.0 170.7 L180.4 190.1 L180.7 170.0 L181.0 189.5 L181.3 170.3 L181.7 188.9 L182.0 170.6 L182.3 188.8 L182.7 170.7 L183.0 189.0 L183.3 171.7 L183.7 189.1 L184.0 171.5 L184.3 190.9 L184.6 171.6 L185.0 191.2 L185.3 173.5 L185.6 193.2 L186.0 175.0 L186.3 194.5 L186.6 179.7 L187.0 196.3 L187.3 184.9 L187.6 196.2 L187.9 185.6 L188.3 195.9 L188.6 186.2 L188.9 195.8 L189.3 184.0 L189.6 196.3 L189.9 181.8 L190.3 195.2 L190.6 178.9 L190.9 196.1 L191.2 175.5 L191.6 196.1 L191.9 175.5 L192.2 194.3 L192.6 174.1 L192.9 196.1 L193.2 173.5 L193.6 195.8 L193.9 173.9 L194.2 195.7 L194.5 178.4 L194.9 194.6 L195.2 179.4 L195.5 193.4 L195.9 180.0 L196.2 192.9 L196.5 180.8 L196.9 193.9 L197.2 179.6 L197.5 193.1 L197.8 178.5 L198.2 193.5 L198.5 177.2 L198.8 191.9 L199.2 176.6 L199.5 193.3 L199.8 174.4 L200.2 192.4 L200.5 174.4 L200.8 191.1 L201.1 175.0 L201.5 192.8 L201.8 173.7 L202.1 191.7 L202.5 174.4 L202.8 193.1 L203.1 174.2 L203.5 192.9 L203.8 173.9 L204.1 192.4 L204.4 174.6 L204.8 192.5 L205.1 173.3 L205.4 192.0 L205.8 172.9 L206.1 190.7 L206.4 172.5 L206.8 191.2 L207.1 172.3 L207.4 190.5 L207.7 172.4 L208.1 190.4 L208.4 172.2 L208.7 189.6 L209.1 172.5 L209.4 189.4 L209.7 172.0 L210.1 189.0 L210.4 172.1 L210.7 188.3 L211.0 172.4 L211.4 186.1 L211.7 171.6 L212.0 186.9 L212.4 171.7 L212.7 185.5 L213.0 172.8 L213.4 185.2 L213.7 171.4 L214.0 184.6 L214.3 171.2 L214.7 184.4 L215.0 171.5 L215.3 183.0 L215.7 170.4 L216.0 182.7 L216.3 170.7 L216.7 181.2 L217.0 170.0 L217.3 181.8 L217.6 169.8 L218.0 181.1 L218.3 169.5 L218.6 180.2 L219.0 169.3 L219.3 180.2 L219.6 169.5 L220.0 180.3 L220.3 169.8 L220.6 180.3 L220.9 169.4 L221.3 180.1 L221.6 169.4 L221.9 180.3 L222.3 169.9 L222.6 180.2 L222.9 169.3 L223.3 180.8 L223.6 169.6 L223.9 180.5 L224.2 169.3 L224.6 181.5 L224.9 170.1 L225.2 181.7 L225.6 170.6 L225.9 186.4 L226.2 171.4 L226.6 186.9 L226.9 173.2 L227.2 186.5 L227.5 172.3 L227.9 187.0 L228.2 170.8 L228.5 186.9 L228.9 171.0 L229.2 186.7 L229.5 169.3 L229.9 180.6 L230.2 169.1 L230.5 179.2 L230.8 169.3 L231.2 178.8 L231.5 169.1 L231.8 178.6 L232.2 170.8 L232.5 178.4 L232.8 169.0 L233.2 178.3 L233.5 168.7 L233.8 178.2 L234.1 168.7 L234.5 177.8 L234.8 168.7 L235.1 177.7 L235.5 168.6 L235.8 178.6 L236.1 168.7 L236.5 178.3 L236.8 169.8 L237.1 178.5 L237.4 171.3 L237.8 178.5 L238.1 170.1 L238.4 181.1 L238.8 170.7 L239.1 182.6 L239.4 170.3 L239.8 181.3 L240.1 170.0 L240.4 178.8 L240.7 170.0 L241.1 179.4 L241.4 170.9 L241.7 181.8 L242.1 171.2 L242.4 183.4 L242.7 170.7 L245.3 180.3 L245.6 169.9 L245.9 183.2 L246.3 169.8 L246.6 185.1 L249.1 170.1 L249.4 183.3 L249.7 170.7 L250.0 185.7 L250.4 170.8 L250.7 186.7 L251.0 171.0 L254.0 187.4 L254.3 170.4 L254.6 187.6 L255.0 173.8 L255.3 187.0 L255.6 171.1 L256.0 185.6 L256.3 169.8 L258.6 187.6 L258.9 169.3 L259.3 188.3 L259.6 170.1 L259.9 189.1 L260.3 169.6 L260.6 188.4 L260.9 168.8 L261.3 188.9 L261.6 169.7 L261.9 189.0 L262.2 168.7 L262.6 188.7 L262.9 170.0 L263.2 188.7 L263.6 168.8 L263.9 188.9 L264.2 169.9 L264.6 189.2 L264.9 169.7 L265.2 189.2 L265.5 169.9 L265.9 189.0 L266.2 169.0 L266.5 189.8 L266.9 168.8 L269.5 190.2 L269.8 171.8 L270.1 190.2 L270.5 169.5 L270.8 190.3 L271.1 172.8 L271.5 190.3 L271.8 177.3 L272.1 190.2 L272.5 180.6 L274.7 189.8 L275.0 184.2 L275.3 190.2 L275.6 184.8 L278.5 190.1 L278.9 173.8 L279.2 190.0 L279.5 174.2 L279.8 190.0 L280.2 174.0 L280.5 189.9 L280.8 187.2 L281.2 190.0 L281.5 187.4 L281.8 189.9 L282.2 186.7 L282.5 189.8 L282.8 184.5 L283.1 189.8 L283.5 186.9 L283.8 189.8 L284.1 187.6 L284.5 189.7 L284.8 188.2 L285.1 189.6 L285.5 188.6 L285.8 189.6 L286.1 187.7 L286.4 189.6 L286.8 187.3 L287.1 189.5 L287.4 186.9 L287.8 189.6 L288.1 186.8 L288.4 189.5 L288.8 186.3 L289.1 189.4 L289.4 186.1 L289.7 189.3 L290.1 181.7 L290.4 189.3 L290.7 183.0 L291.1 189.3 L291.4 186.2 L291.7 189.1 L292.1 186.7 L292.4 189.2 L292.7 187.1 L293.0 189.2 L293.4 187.8 L293.7 189.2 L294.0 188.1 L294.4 189.1 L294.7 187.1 L295.0 189.1 L295.4 186.4 L295.7 189.0 L296.0 186.0 L296.3 188.6 L296.7 185.7 L297.0 189.0 L297.3 186.4 L297.7 188.8 L298.0 187.7 L298.3 188.9 L298.7 187.6 L299.0 188.8 L299.3 186.2 L299.6 188.7 L300.0 185.6 L300.3 188.6 L300.6 185.0 L301.0 188.6 L301.3 186.6 L301.6 188.6 L302.0 187.9 L302.3 188.6 L302.6 188.3 L302.9 188.6 L303.3 168.9 L303.6 188.5 L303.9 172.7 L304.3 188.4 L304.6 168.8 L304.9 187.8 L305.3 168.0 L305.6 188.1 L307.8 168.7 L308.1 185.5 L308.5 167.8 L308.8 185.9 L309.1 168.2 L309.5 185.2 L309.8 168.2 L310.1 185.1 L310.4 168.6 L310.8 185.4 L311.1 169.8 L314.0 186.7 L314.3 185.9 L314.7 186.9 L315.0 187.0 L315.3 187.1 L315.7 185.9 L316.0 187.3 L316.3 184.7 L316.7 187.4 L317.0 186.9 L317.3 187.4 L317.6 187.4 L318.0 187.4 L318.3 187.4 L318.6 187.4 L319.0 185.2 L319.3 187.4 L319.6 187.5 L320.0 187.5 L320.3 187.5 L320.6 187.4 L320.9 187.4 L321.3 187.4 L321.6 187.4 L321.9 187.3 L322.3 186.2 L322.6 187.3 L322.9 187.3 L323.3 187.3 L323.6 187.2 L323.9 187.2 L324.2 187.2 L324.6 187.2 L324.9 187.2 L325.2 187.1 L325.6 187.1 L325.9 187.1 L326.2 187.1 L326.6 187.0 L326.9 187.0 L327.2 187.0 L327.5 187.0 L327.9 187.0 L328.2 186.9 L328.5 186.9 L328.9 186.9 L329.2 186.9 L329.5 186.8 L329.9 186.8 L330.2 186.8 L330.5 186.8 L330.8 185.5 L331.2 186.6 L331.5 186.7 L331.8 186.7 L332.2 186.7 L332.5 186.7 L332.8 186.6 L333.2 186.6 L333.5 186.6 L333.8 186.6 L334.1 186.5 L334.5 186.5 L334.8 186.5 L335.1 186.5 L335.5 186.5 L335.8 186.4 L336.1 186.4 L336.5 186.3 L336.8 182.3 L337.1 186.3 L337.4 186.3 L337.8 186.3 L338.1 186.3 L338.4 186.3 L338.8 186.2 L339.1 186.2 L339.4 186.2 L339.8 186.2 L340.1 186.1 L340.4 186.1 L340.7 186.1 L341.1 186.0 L341.4 181.4 L341.7 186.0 L342.1 186.0 L342.4 186.0 L342.7 186.0 L343.1 186.0 L343.4 185.9 L343.7 185.9 L344.0 185.9 L344.4 185.9 L344.7 185.8 L345.0 185.8 L345.4 185.8 L345.7 185.8 L346.0 185.8 L346.4 185.7 L346.7 185.7 L347.0 185.7 L347.3 185.7 L347.7 185.6 L348.0 185.6 L348.3 185.6 L348.7 185.6 L349.0 185.6 L349.3 185.5 L349.7 185.5 L350.0 185.5 L350.3 185.5 L350.6 185.4 L351.0 185.4 L351.3 185.4 L351.6 185.4 L352.0 185.4 L352.3 185.3 L352.6 185.3 L353.0 185.3 L353.3 185.3 L353.6 185.3 L353.9 185.2 L354.3 185.2 L354.6 185.2 L354.9 185.2 L355.3 185.1 L355.6 185.1 L355.9 185.1 L356.3 185.1 L356.6 185.1 L356.9 185.0 L357.2 185.0 L357.6 185.0 L357.9 185.0 L358.2 184.9 L358.6 184.3 L358.9 184.9 L359.2 184.9 L359.6 184.9 L359.9 184.8 L360.2 184.8 L360.5 184.8 L360.9 184.8 L361.2 184.8 L361.5 184.7 L361.9 184.7 L362.2 184.7 L362.5 184.7 L362.9 184.6 L363.2 181.5 L363.5 184.6 L363.8 184.6 L364.2 184.6 L364.5 184.5 L364.8 184.5 L365.2 184.5 L365.5 184.5 L365.8 184.4 L366.2 184.4 L366.5 184.4 L366.8 184.4 L367.1 184.4 L367.5 184.3 L367.8 184.3 L368.1 184.3 L368.5 184.3 L368.8 184.3 L369.1 184.2 L369.5 184.2 L369.8 184.2 L370.1 184.2 L370.4 184.1 L370.8 184.1 L371.1 183.3 L371.4 184.1 L371.8 183.0 L372.1 184.0 L372.4 182.3 L372.8 184.0 L373.1 181.5 L373.4 183.9 L373.7 180.5 L374.1 183.9 L376.5 176.7 L376.9 183.7 L377.2 176.8 L377.5 183.6 L377.9 177.1 L378.2 183.6 L378.5 178.7 L378.8 183.5 L379.2 180.1 L379.5 183.5 L379.8 180.9 L380.2 183.5 L380.5 181.2 L380.8 183.4 L381.2 181.4 L381.5 183.4 L381.8 181.6 L382.1 183.4 L382.5 182.1 L382.8 183.3 L383.1 182.3 L383.5 183.2 L383.8 181.5 L384.1 183.2 L384.5 180.5 L384.8 183.2 L385.1 177.2 L385.4 182.8 L385.8 173.0 L386.1 182.9 L386.4 172.7 L386.8 182.9 L387.1 179.8 L387.4 182.9 L387.8 180.8 L388.1 183.0 L388.4 180.9 L388.7 182.9 L389.1 179.7 L389.4 182.8 L389.7 178.5 L390.1 182.9 L390.4 179.9 L390.7 182.7 L391.1 181.5 L391.4 182.7 L391.7 181.8 L392.0 182.7 L392.4 181.7 L392.7 182.4 L393.0 181.1 L394.1 181.7 L395.1 177.8 L396.2 181.3 L397.2 175.7 L398.3 179.2 L399.3 172.4 L400.4 176.3 L401.4 169.4 L402.5 175.2 L403.5 168.8 L404.6 177.6 L405.6 165.3 L406.7 177.5 L407.7 157.9 L408.8 174.8 L409.8 157.6 L410.9 174.1 L411.9 160.0 L413.0 171.9 L414.0 162.4 L415.1 169.0 L416.1 160.9 L417.2 162.6 L418.2 156.7 L418.3 156.4 L420.6 156.3 L422.8 155.8 L423.8 163.8 L424.7 155.7 L427.2 155.5 L428.0 163.2 L428.9 155.4 L430.2 156.0 L430.9 171.4 L431.8 155.9 L432.7 163.7 L433.6 155.9 L435.4 155.8 L436.1 168.6 L436.9 138.1 L437.7 168.6 L438.3 155.8 L439.5 159.9 L440.6 155.7 L442.8 155.7 L443.5 171.2 L444.6 160.1 L445.7 158.1 L447.2 157.4 L448.7 154.6 L450.2 154.6 L452.4 154.5 L453.9 155.5 L454.6 163.7 L455.8 155.4 L457.6 154.5 L459.1 154.4 L460.3 158.7 L461.3 163.8 L462.0 167.6 L463.2 163.8 L464.3 167.1 L465.0 170.5 L466.2 154.1 L467.2 163.9 L468.3 169.2 L469.1 155.7 L470.2 172.0 L471.2 166.3 L472.1 171.6 L473.1 164.0 L473.9 171.7 L475.0 171.2 L476.2 156.4 L477.2 170.9 L478.3 154.7 L479.4 171.4 L480.9 158.0 L482.4 171.1 L483.9 156.4 L484.6 155.6 L485.4 174.3 L486.9 173.1 L489.1 173.2 L489.8 163.8 L491.3 172.9 L493.5 172.6 L494.3 161.0 L495.4 173.6 L497.2 173.7 L499.4 164.2 L501.4 173.1 L503.1 168.0 L504.6 174.7 L506.9 174.3 L509.8 169.5 L511.3 173.2 L512.8 171.3 L513.8 155.4 L515.7 171.0 L518.0 165.1 L519.4 172.8 L521.2 162.4 L523.1 172.5 L525.4 173.2 L527.6 172.9 L530.6 172.0 L532.0 167.3 L533.5 152.5 L535.0 168.8 L536.5 170.7 L538.0 169.6 L539.4 159.8 L541.7 162.0 L543.9 170.0 L546.1 163.1 L547.6 169.0 L549.1 167.1 L550.6 152.8 L552.0 166.6 L554.3 167.5 L555.7 158.4 L558.0 167.8 L560.2 170.1 L562.4 168.1 L564.6 155.4 L565.0 153.2 L566.6 168.7 L569.1 169.7 L570.7 164.7 L572.8 147.8 L574.0 163.0 L575.1 165.0 L576.4 160.0 L578.0 168.0 L580.5 168.2 L582.9 162.7 L584.9 153.1 L587.0 161.9 L588.6 164.2 L590.3 158.7 L591.9 164.5 L594.0 167.0 L596.8 164.9 L599.2 159.5 L601.2 146.0 L603.3 158.5 L605.7 161.2 L607.0 154.7 L608.7 162.7 L611.4 165.8 L613.1 164.2 L614.7 158.2 L616.3 162.2 L618.0 157.0 L620.1 149.1 L621.7 160.1 L623.7 162.9 L626.1 160.5 L628.6 159.4 L631.0 163.6 L633.4 158.4 L634.3 152.0 L635.9 161.5 L637.5 163.0 L640.0 157.5 L642.4 154.5 L644.0 147.0 L645.7 156.4 L647.3 151.3 L648.9 144.3 L651.4 149.7 L653.0 156.5 L654.3 151.9 L655.4 159.0 L657.9 161.4 L661.2 162.6 L664.4 162.1 L667.7 160.3 L670.9 159.6 L673.4 157.5 L675.0 155.4" stroke="#5fc63b" stroke-width="2.4"/></g>
<path d="M109.4 203.9 L111.4 201.8 L113.4 201.5 L115.4 201.3 L117.4 201.2 L119.4 201.1 L121.4 200.9 L123.4 200.8 L125.4 200.7 L127.4 200.5 L129.4 200.4 L131.4 200.3 L133.4 200.1 L135.4 200.0 L137.4 199.9 L139.4 199.7 L141.4 199.6 L143.4 199.5 L145.4 199.3 L147.4 199.2 L149.4 199.1 L151.4 198.9 L153.4 198.8 L155.4 198.6 L157.4 198.5 L159.4 198.4 L161.4 198.2 L163.4 198.1 L165.4 198.0 L167.4 197.8 L169.4 197.7 L171.4 197.6 L173.4 197.4 L175.4 197.3 L177.4 197.2 L179.4 197.0 L181.4 196.9 L183.4 196.8 L185.4 196.6 L187.4 196.5 L189.4 196.4 L191.4 196.2 L193.4 196.1 L195.4 196.0 L197.4 195.8 L199.4 195.7 L201.4 195.6 L203.4 195.4 L205.4 195.3 L207.4 195.2 L209.4 195.0 L211.4 194.9 L213.4 194.8 L215.4 194.6 L217.4 194.5 L219.4 194.4 L221.4 194.2 L223.4 194.1 L225.4 193.9 L227.4 193.8 L229.4 193.7 L231.4 193.5 L233.4 193.4 L235.4 193.3 L237.4 193.1 L239.4 193.0 L241.4 192.9 L243.4 192.7 L245.4 192.6 L247.4 192.5 L249.4 192.3 L251.4 192.2 L253.4 192.1 L255.4 191.9 L257.4 191.8 L259.4 191.7 L261.4 191.5 L263.4 191.4 L265.4 191.3 L267.4 191.1 L269.4 191.0 L271.4 190.9 L273.4 190.7 L275.4 190.6 L277.4 190.5 L279.4 190.3 L281.4 190.2 L283.4 190.1 L285.4 189.9 L287.4 189.8 L289.4 189.7 L291.4 189.5 L293.4 189.4 L295.4 189.3 L297.4 189.1 L299.4 189.0 L301.4 188.9 L303.4 188.7 L305.4 188.6 L307.4 188.5 L309.4 188.3 L311.4 188.2 L313.4 188.1 L315.4 187.9 L317.4 187.8 L319.4 187.7 L321.4 187.6 L323.4 187.4 L325.4 187.3 L327.4 187.2 L329.4 187.0 L331.4 186.9 L333.4 186.8 L335.4 186.6 L337.4 186.5 L339.4 186.4 L341.4 186.2 L343.4 186.1 L345.4 186.0 L347.4 185.9 L349.4 185.7 L351.4 185.6 L353.4 185.5 L355.4 185.3 L357.4 185.2 L359.4 185.1 L361.4 184.9 L363.4 184.8 L365.4 184.7 L367.4 184.6 L369.4 184.4 L371.4 184.3 L373.4 184.2 L375.4 184.0 L377.4 183.9 L379.4 183.8 L381.4 183.7 L383.4 183.5 L385.4 183.4 L387.4 183.3 L389.4 183.1 L391.4 183.0 L393.4 182.9 L395.4 182.8 L397.4 182.6 L399.4 182.5 L401.4 182.4 L403.4 182.3 L405.4 182.1 L407.4 182.0 L409.4 181.9 L411.4 181.7 L413.4 181.6 L415.4 181.5 L417.4 181.4 L419.4 181.2 L421.4 181.1 L423.4 181.0 L425.4 180.9 L427.4 180.7 L429.4 180.6 L431.4 180.5 L433.4 180.4 L435.4 180.2 L437.4 180.1 L439.4 180.0 L441.4 179.9 L443.4 179.8 L445.4 179.6 L447.4 179.5 L449.4 179.4 L451.4 179.3 L453.4 179.1 L455.4 179.0 L457.4 178.9 L459.4 178.8 L461.4 178.6 L463.4 178.5 L465.4 178.4 L467.4 178.3 L469.4 178.2 L471.4 178.0 L473.4 177.9 L475.4 177.8 L477.4 177.7 L479.4 177.6 L481.4 177.4 L483.4 177.3 L485.4 177.2 L487.4 177.1 L489.4 177.0 L491.4 176.8 L493.4 176.7 L495.4 176.6 L497.4 176.5 L499.4 176.4 L501.4 176.2 L503.4 176.1 L505.4 176.0 L507.4 175.9 L509.4 175.8 L511.4 175.6 L513.4 175.5 L515.4 175.4 L517.4 175.3 L519.4 175.2 L521.4 175.1 L523.4 174.9 L525.4 174.8 L527.4 174.7 L529.4 174.6 L531.4 174.5 L533.4 174.4 L535.4 174.2 L537.4 174.1 L539.4 174.0 L541.4 173.9 L543.4 173.8 L545.4 173.7 L547.4 173.5 L549.4 173.4 L551.4 173.3 L553.4 173.2 L555.4 173.1 L557.4 173.0 L559.4 172.9 L561.4 172.7 L563.4 172.6 L565.4 172.5 L567.4 172.4 L569.4 172.3 L571.4 172.2 L573.4 172.1 L575.4 171.9 L577.4 171.8 L579.4 171.7 L581.4 171.6 L583.4 171.5 L585.4 171.4 L587.4 171.3 L589.4 171.2 L591.4 171.0 L593.4 170.9 L595.4 170.8 L597.4 170.7 L599.4 170.6 L601.4 170.5 L603.4 170.4 L605.4 170.3 L607.4 170.2 L609.4 170.0 L611.4 169.9 L613.4 169.8 L615.4 169.7 L617.4 169.6 L619.4 169.5 L621.4 169.4 L623.4 169.3 L625.4 169.2 L627.4 169.1 L629.4 168.9 L631.4 168.8 L633.4 168.7 L635.4 168.6 L637.4 168.5 L639.4 168.4 L641.4 168.3 L643.4 168.2 L645.4 168.1 L647.4 168.0 L649.4 167.9 L651.4 167.8 L653.4 167.6 L655.4 167.5 L657.4 167.4 L659.4 167.3 L661.4 167.2 L663.4 167.1 L665.4 167.0 L667.4 166.9 L669.4 166.8 L671.4 166.7 L673.4 166.6 L675.4 166.5" stroke="#000" stroke-width="2.4"/>
</g>
<g clip-path="url(#c3)" fill="none" stroke-linejoin="round" stroke-linecap="butt">
<g clip-path="url(#k3)"><path d="M109.4 352.3 L109.7 352.3 L110.1 352.3 L110.4 352.3 L110.7 352.3 L111.0 352.3 L111.4 352.3 L111.7 352.3 L112.0 352.3 L112.4 352.3 L112.7 352.3 L113.0 352.3 L113.4 352.3 L113.7 352.3 L114.0 352.3 L114.3 352.3 L114.7 352.3 L115.0 352.3 L115.3 352.3 L115.7 352.3 L116.0 352.3 L116.3 352.3 L116.7 352.3 L117.0 352.3 L117.3 352.3 L117.6 352.3 L118.0 352.3 L118.3 352.3 L118.6 352.3 L119.0 352.3 L119.3 352.3 L119.6 352.3 L120.0 352.3 L120.3 352.3 L120.6 352.3 L120.9 352.3 L121.3 352.3 L121.6 352.3 L121.9 352.3 L122.3 352.3 L122.6 352.3 L122.9 352.3 L123.3 352.3 L123.6 352.3 L123.9 352.3 L124.2 352.3 L124.6 352.3 L124.9 352.3 L125.2 352.3 L125.6 352.3 L125.9 352.3 L126.2 352.3 L126.6 352.3 L126.9 352.3 L127.2 352.3 L127.5 352.3 L127.9 352.3 L128.2 352.3 L128.5 352.3 L128.9 352.3 L129.2 352.3 L129.5 352.3 L129.9 352.3 L130.2 352.3 L130.5 352.3 L130.9 352.3 L131.2 352.3 L131.5 352.3 L131.8 352.3 L132.2 352.3 L132.5 352.3 L132.8 352.3 L133.2 352.3 L133.5 352.3 L133.8 352.3 L134.2 352.3 L134.5 352.3 L134.8 352.3 L135.1 352.3 L135.5 352.3 L135.8 352.3 L136.1 352.3 L136.5 352.3 L136.8 352.3 L137.1 352.3 L137.5 352.3 L137.8 352.3 L138.1 352.3 L138.4 352.3 L138.8 352.3 L139.1 352.3 L139.4 352.3 L139.8 352.3 L140.1 352.3 L140.4 352.3 L140.8 352.3 L141.1 352.3 L141.4 352.3 L141.7 352.3 L142.1 352.3 L142.4 352.3 L142.7 352.3 L143.1 352.3 L143.4 352.3 L143.7 352.3 L144.1 352.3 L144.4 352.3 L144.7 352.3 L145.0 352.3 L145.4 352.3 L145.7 352.3 L146.0 352.3 L146.4 352.3 L146.7 352.2 L147.0 352.3 L147.4 352.2 L147.7 352.3 L148.0 352.1 L148.3 352.3 L148.7 352.1 L149.0 352.3 L149.3 352.1 L149.7 352.3 L150.0 352.1 L150.3 352.3 L150.7 352.0 L151.0 352.3 L151.3 352.0 L151.6 352.3 L152.0 351.9 L152.3 352.3 L152.6 351.9 L153.0 352.3 L153.3 351.9 L153.6 352.3 L154.0 351.8 L154.3 352.3 L154.6 351.8 L154.9 352.3 L155.3 351.8 L155.6 352.3 L155.9 351.7 L156.3 352.3 L156.6 351.6 L156.9 352.3 L157.3 351.8 L157.6 352.3 L157.9 351.5 L158.2 352.3 L158.6 351.4 L158.9 352.3 L159.2 351.3 L159.6 352.3 L159.9 351.2 L160.2 352.2 L160.6 351.1 L160.9 352.1 L161.2 351.0 L161.5 351.9 L161.9 350.9 L162.2 351.8 L162.5 350.8 L162.9 351.6 L163.2 350.7 L163.5 351.4 L163.9 350.6 L164.2 351.2 L164.5 350.4 L164.8 351.1 L165.2 350.3 L165.5 351.0 L165.8 350.1 L166.2 350.8 L166.5 350.0 L166.8 350.7 L167.2 349.9 L167.5 350.5 L167.8 349.8 L168.1 350.3 L168.5 349.5 L168.8 350.3 L169.1 349.4 L169.5 350.6 L169.8 349.2 L170.1 350.9 L170.5 349.7 L170.8 350.9 L171.1 350.1 L171.4 350.8 L171.8 350.2 L172.1 350.7 L172.4 350.2 L172.8 350.2 L173.1 349.4 L173.4 349.3 L173.8 348.8 L174.1 349.1 L174.4 348.7 L174.7 348.9 L175.1 348.4 L175.4 348.7 L175.7 348.2 L176.1 348.5 L176.4 348.0 L176.7 351.4 L177.1 348.7 L177.4 352.1 L177.7 348.6 L178.0 352.1 L178.4 349.0 L178.7 352.2 L179.0 349.5 L179.4 352.1 L179.7 349.3 L180.0 352.1 L180.4 349.5 L180.7 352.1 L181.0 349.5 L181.3 352.1 L181.7 349.6 L182.0 352.1 L182.3 349.5 L182.7 352.1 L183.0 349.2 L183.3 352.0 L183.7 349.1 L184.0 352.0 L184.3 348.0 L184.6 352.0 L185.0 347.6 L185.3 351.8 L185.6 345.9 L186.0 351.7 L186.3 344.4 L186.6 351.1 L187.0 342.0 L187.3 349.8 L187.6 341.7 L187.9 349.4 L188.3 341.6 L188.6 349.0 L188.9 341.3 L189.3 349.7 L189.6 340.1 L189.9 350.2 L190.3 341.2 L190.6 350.8 L190.9 339.4 L191.2 351.2 L191.6 338.9 L191.9 351.2 L192.2 341.0 L192.6 351.3 L192.9 337.9 L193.2 351.3 L193.6 337.9 L193.9 351.2 L194.2 337.4 L194.5 350.3 L194.9 338.8 L195.2 350.0 L195.5 340.0 L195.9 349.7 L196.2 340.3 L196.5 349.3 L196.9 338.4 L197.2 349.5 L197.5 339.1 L197.8 349.8 L198.2 338.0 L198.5 350.0 L198.8 340.0 L199.2 350.1 L199.5 337.3 L199.8 350.5 L200.2 338.4 L200.5 350.4 L200.8 339.8 L201.1 350.2 L201.5 336.7 L201.8 350.4 L202.1 338.1 L202.5 350.1 L202.8 335.2 L203.1 350.1 L203.5 335.0 L203.8 350.1 L204.1 335.3 L204.4 349.8 L204.8 334.8 L205.1 350.0 L205.4 335.1 L205.8 350.0 L206.1 336.8 L206.4 350.0 L206.8 335.6 L207.1 350.0 L207.4 336.2 L207.7 349.9 L208.1 335.8 L208.4 349.8 L208.7 336.7 L209.1 349.6 L209.4 336.6 L209.7 349.7 L210.1 336.8 L210.4 349.5 L210.7 337.4 L211.0 349.3 L211.4 340.0 L211.7 349.5 L212.0 338.7 L212.4 349.3 L212.7 340.0 L213.0 348.9 L213.4 340.0 L213.7 349.2 L214.0 340.4 L214.3 349.1 L214.7 340.4 L215.0 348.9 L215.3 341.6 L215.7 349.2 L216.0 341.6 L216.3 349.0 L216.7 342.8 L217.0 349.1 L217.3 342.0 L217.6 349.0 L218.0 342.3 L218.3 349.0 L218.6 342.9 L219.0 349.0 L219.3 342.6 L219.6 348.8 L220.0 342.3 L220.3 348.5 L220.6 341.9 L220.9 348.6 L221.3 341.8 L221.6 348.5 L221.9 341.4 L222.3 348.2 L222.6 341.2 L222.9 348.2 L223.3 340.3 L223.6 348.0 L223.9 340.3 L224.2 348.0 L224.6 338.8 L224.9 347.5 L225.2 338.2 L225.6 347.1 L225.9 330.3 L226.2 346.6 L226.6 328.7 L226.9 345.4 L227.2 329.0 L227.5 345.7 L227.9 327.6 L228.2 346.4 L228.5 327.2 L228.9 346.2 L229.2 327.1 L229.5 346.9 L229.9 337.2 L230.2 346.8 L230.5 338.6 L230.8 346.6 L231.2 338.8 L231.5 346.5 L231.8 338.8 L232.2 345.4 L232.5 338.7 L232.8 346.3 L233.2 338.5 L233.5 346.2 L233.8 338.3 L234.1 346.1 L234.5 338.6 L234.8 345.9 L235.1 338.3 L235.5 345.8 L235.8 336.8 L236.1 345.6 L236.5 337.0 L236.8 344.7 L237.1 336.3 L237.4 343.5 L237.8 336.0 L238.1 344.2 L238.4 331.7 L238.8 343.6 L239.1 328.6 L239.4 343.6 L239.8 330.6 L240.1 343.7 L240.4 334.4 L240.7 343.5 L241.1 333.1 L241.4 342.6 L241.7 328.5 L242.1 342.1 L242.4 324.7 L242.7 342.3 L245.3 329.2 L245.6 342.1 L245.9 322.6 L246.3 342.0 L246.6 317.3 L249.1 340.7 L249.4 319.8 L249.7 340.0 L250.0 312.8 L250.4 339.6 L250.7 309.2 L251.0 339.2 L254.0 304.1 L254.3 338.7 L254.6 302.5 L255.0 334.4 L255.3 304.3 L255.6 337.5 L256.0 308.4 L256.3 338.5 L258.6 299.1 L258.9 338.1 L259.3 295.6 L259.6 337.0 L259.9 291.9 L260.3 337.3 L260.6 294.3 L260.9 337.9 L261.3 291.3 L261.6 336.7 L261.9 290.5 L262.2 337.6 L262.6 291.1 L262.9 335.9 L263.2 290.4 L263.6 337.0 L263.9 288.8 L264.2 335.5 L264.6 287.1 L264.9 335.5 L265.2 286.3 L265.5 335.1 L265.9 286.6 L266.2 335.9 L266.5 282.4 L266.9 335.9 L269.5 277.8 L269.8 330.7 L270.1 277.3 L270.5 333.6 L270.8 276.2 L271.1 328.6 L271.5 275.7 L271.8 319.9 L272.1 275.2 L272.5 311.5 L274.7 275.4 L275.0 298.4 L275.3 272.8 L275.6 295.8 L278.5 270.6 L278.9 323.5 L279.2 270.1 L279.5 322.4 L279.8 269.9 L280.2 322.4 L280.5 270.0 L280.8 282.5 L281.2 268.8 L281.5 281.3 L281.8 268.9 L282.2 283.6 L282.5 268.7 L282.8 292.1 L283.1 268.0 L283.5 281.8 L283.8 267.9 L284.1 278.2 L284.5 267.5 L284.8 274.8 L285.1 267.6 L285.5 272.3 L285.8 267.0 L286.1 276.2 L286.4 266.6 L286.8 277.6 L287.1 266.7 L287.4 278.9 L287.8 266.0 L288.1 279.1 L288.4 266.0 L288.8 280.9 L289.1 265.7 L289.4 281.1 L289.7 265.7 L290.1 297.4 L290.4 265.7 L290.7 292.4 L291.1 264.8 L291.4 279.5 L291.7 265.5 L292.1 276.8 L292.4 264.5 L292.7 274.5 L293.0 264.0 L293.4 270.8 L293.7 263.9 L294.0 268.8 L294.4 264.0 L294.7 273.3 L295.0 263.5 L295.4 276.0 L295.7 263.3 L296.0 277.6 L296.3 264.9 L296.7 278.5 L297.0 262.8 L297.3 275.1 L297.7 263.1 L298.0 268.3 L298.3 262.4 L298.7 268.5 L299.0 262.5 L299.3 274.5 L299.6 262.3 L300.0 276.8 L300.3 262.8 L300.6 279.1 L301.0 262.0 L301.3 271.4 L301.6 261.9 L302.0 265.0 L302.3 261.5 L302.6 262.9 L302.9 261.3 L303.3 322.3 L303.6 261.2 L303.9 314.8 L304.3 261.5 L304.6 322.0 L304.9 264.0 L305.3 323.2 L305.6 262.2 L307.8 321.0 L308.1 272.7 L308.5 322.3 L308.8 270.8 L309.1 321.5 L309.5 273.4 L309.8 321.3 L310.1 273.7 L310.4 320.3 L310.8 271.9 L311.1 317.8 L314.0 264.8 L314.3 268.4 L314.7 263.4 L315.0 262.7 L315.3 262.1 L315.7 267.4 L316.0 261.1 L316.3 272.4 L316.7 260.4 L317.0 262.7 L317.3 259.9 L317.6 259.8 L318.0 259.6 L318.3 259.4 L318.6 259.3 L319.0 269.4 L319.3 259.1 L319.6 258.7 L320.0 258.5 L320.3 258.5 L320.6 258.5 L320.9 258.5 L321.3 258.4 L321.6 258.4 L321.9 258.4 L322.3 263.5 L322.6 258.4 L322.9 258.3 L323.3 258.3 L323.6 258.3 L323.9 258.3 L324.2 258.3 L324.6 258.3 L324.9 258.2 L325.2 258.2 L325.6 258.2 L325.9 258.2 L326.2 258.2 L326.6 258.2 L326.9 258.2 L327.2 258.2 L327.5 258.2 L327.9 258.2 L328.2 258.2 L328.5 258.2 L328.9 258.2 L329.2 258.1 L329.5 258.1 L329.9 258.1 L330.2 258.1 L330.5 258.1 L330.8 263.9 L331.2 258.9 L331.5 258.1 L331.8 258.1 L332.2 258.2 L332.5 258.2 L332.8 258.2 L333.2 258.2 L333.5 258.2 L333.8 258.2 L334.1 258.2 L334.5 258.2 L334.8 258.2 L335.1 258.2 L335.5 258.2 L335.8 258.2 L336.1 258.2 L336.5 258.6 L336.8 274.9 L337.1 258.3 L337.4 258.3 L337.8 258.3 L338.1 258.3 L338.4 258.3 L338.8 258.4 L339.1 258.4 L339.4 258.4 L339.8 258.4 L340.1 258.4 L340.4 258.5 L340.7 258.5 L341.1 258.9 L341.4 276.9 L341.7 258.5 L342.1 258.6 L342.4 258.6 L342.7 258.6 L343.1 258.6 L343.4 258.7 L343.7 258.7 L344.0 258.7 L344.4 258.7 L344.7 258.8 L345.0 258.8 L345.4 258.8 L345.7 258.9 L346.0 258.9 L346.4 258.9 L346.7 259.0 L347.0 259.0 L347.3 259.0 L347.7 259.1 L348.0 259.1 L348.3 259.1 L348.7 259.2 L349.0 259.2 L349.3 259.2 L349.7 259.3 L350.0 259.3 L350.3 259.3 L350.6 259.4 L351.0 259.4 L351.3 259.4 L351.6 259.5 L352.0 259.5 L352.3 259.6 L352.6 259.6 L353.0 259.6 L353.3 259.7 L353.6 259.7 L353.9 259.8 L354.3 259.8 L354.6 259.9 L354.9 259.9 L355.3 259.9 L355.6 260.0 L355.9 260.0 L356.3 260.1 L356.6 260.1 L356.9 260.2 L357.2 260.2 L357.6 260.3 L357.9 260.3 L358.2 260.4 L358.6 262.7 L358.9 260.5 L359.2 260.5 L359.6 260.6 L359.9 260.6 L360.2 260.7 L360.5 260.7 L360.9 260.8 L361.2 260.8 L361.5 260.9 L361.9 260.9 L362.2 261.0 L362.5 261.0 L362.9 261.1 L363.2 272.6 L363.5 261.2 L363.8 261.2 L364.2 261.3 L364.5 261.3 L364.8 261.4 L365.2 261.5 L365.5 261.5 L365.8 261.6 L366.2 261.6 L366.5 261.7 L366.8 261.8 L367.1 261.8 L367.5 261.9 L367.8 261.9 L368.1 262.0 L368.5 262.0 L368.8 262.1 L369.1 262.2 L369.5 262.2 L369.8 262.3 L370.1 262.4 L370.4 262.4 L370.8 262.5 L371.1 265.4 L371.4 262.7 L371.8 266.6 L372.1 262.9 L372.4 268.9 L372.8 263.0 L373.1 271.5 L373.4 263.1 L373.7 274.7 L374.1 263.2 L376.5 285.6 L376.9 263.7 L377.2 285.3 L377.5 264.0 L377.9 284.5 L378.2 264.0 L378.5 279.8 L378.8 264.3 L379.2 275.6 L379.5 264.4 L379.8 273.0 L380.2 264.4 L380.5 272.2 L380.8 264.7 L381.2 271.6 L381.5 264.8 L381.8 270.7 L382.1 264.9 L382.5 269.3 L382.8 265.0 L383.1 268.4 L383.5 265.3 L383.8 270.9 L384.1 265.5 L384.5 274.2 L384.8 265.5 L385.1 283.7 L385.4 266.7 L385.8 294.1 L386.1 266.5 L386.4 294.8 L386.8 266.4 L387.1 276.0 L387.4 266.3 L387.8 273.3 L388.1 266.2 L388.4 272.8 L388.7 266.6 L389.1 276.3 L389.4 266.7 L389.7 279.9 L390.1 266.6 L390.4 275.7 L390.7 267.1 L391.1 270.9 L391.4 267.1 L391.7 270.1 L392.0 267.3 L392.4 270.3 L392.7 268.3 L393.0 272.2 L394.1 270.4 L395.1 281.5 L396.2 271.7 L397.2 286.9 L398.3 277.8 L399.3 294.6 L400.4 285.3 L401.4 300.5 L402.5 288.2 L403.5 301.6 L404.6 282.1 L405.6 307.7 L406.7 282.5 L407.7 318.4 L408.8 288.9 L409.8 318.6 L410.9 290.6 L411.9 315.3 L413.0 295.2 L414.0 311.8 L415.1 300.7 L416.1 313.7 L417.2 311.3 L418.2 319.0 L418.3 319.4 L420.6 319.4 L422.8 319.9 L423.8 309.2 L424.7 319.8 L427.2 320.0 L428.0 310.0 L428.9 320.0 L430.2 319.3 L430.9 296.3 L431.8 319.3 L432.7 309.1 L433.6 319.3 L435.4 319.2 L436.1 301.5 L436.9 334.3 L437.7 301.5 L438.3 319.2 L439.5 314.2 L440.6 319.2 L442.8 319.2 L443.5 297.1 L444.6 313.9 L445.7 316.3 L447.2 317.2 L448.7 320.2 L450.2 320.2 L452.4 320.2 L453.9 319.1 L454.6 309.1 L455.8 319.1 L457.6 320.1 L459.1 320.1 L460.3 315.5 L461.3 309.2 L462.0 303.9 L463.2 309.2 L464.3 304.7 L465.0 299.6 L466.2 320.5 L467.2 309.2 L468.3 301.8 L469.1 318.8 L470.2 297.5 L471.2 306.2 L472.1 298.3 L473.1 309.3 L473.9 298.3 L475.0 299.2 L476.2 318.2 L477.2 299.9 L478.3 319.8 L479.4 299.3 L480.9 316.6 L482.4 300.1 L483.9 318.2 L484.6 319.0 L485.4 295.3 L486.9 297.4 L489.1 297.4 L489.8 310.4 L491.3 298.2 L493.5 298.9 L494.3 313.8 L495.4 297.6 L497.2 297.7 L499.4 310.5 L501.4 299.2 L503.1 306.2 L504.6 297.2 L506.9 298.0 L509.8 304.9 L511.3 300.1 L512.8 302.9 L513.8 320.0 L515.7 303.7 L518.0 310.8 L519.4 301.7 L521.2 313.9 L523.1 302.5 L525.4 301.9 L527.6 302.7 L530.6 304.1 L532.0 309.7 L533.5 323.1 L535.0 308.4 L536.5 306.3 L538.0 307.7 L539.4 317.5 L541.7 315.7 L543.9 307.9 L546.1 315.1 L547.6 309.4 L549.1 311.5 L550.6 323.6 L552.0 312.3 L554.3 311.7 L555.7 319.7 L558.0 311.8 L560.2 309.8 L562.4 311.9 L564.6 322.5 L565.0 324.0 L566.6 311.8 L569.1 311.2 L570.7 315.8 L572.8 327.7 L574.0 317.4 L575.1 315.9 L576.4 319.9 L578.0 313.7 L580.5 313.7 L582.9 318.4 L584.9 325.1 L587.0 319.3 L588.6 317.8 L590.3 321.8 L591.9 317.9 L594.0 316.1 L596.8 318.0 L599.2 322.0 L601.2 329.8 L603.3 322.9 L605.7 321.3 L607.0 325.5 L608.7 320.6 L611.4 318.7 L613.1 319.9 L614.7 323.9 L616.3 321.6 L618.0 324.8 L620.1 329.1 L621.7 323.3 L623.7 321.7 L626.1 323.3 L628.6 324.2 L631.0 321.9 L633.4 325.1 L634.3 328.4 L635.9 323.6 L637.5 322.8 L640.0 326.0 L642.4 327.7 L644.0 331.2 L645.7 327.0 L647.3 329.5 L648.9 332.5 L651.4 330.4 L653.0 327.4 L654.3 329.6 L655.4 326.3 L657.9 325.3 L661.2 324.9 L664.4 325.5 L667.7 326.6 L670.9 327.1 L673.4 328.3 L675.0 329.3" stroke="#e53314" stroke-width="2.4"/></g>
<path d="M109.4 352.3 L111.4 352.3 L113.4 352.3 L115.4 352.3 L117.4 352.3 L119.4 352.3 L121.4 352.3 L123.4 352.3 L125.4 352.3 L127.4 352.3 L129.4 352.3 L131.4 352.3 L133.4 352.3 L135.4 352.3 L137.4 352.3 L139.4 352.3 L141.4 352.3 L143.4 352.3 L145.4 352.2 L147.4 352.2 L149.4 352.1 L151.4 352.0 L153.4 351.8 L155.4 351.7 L157.4 351.5 L159.4 351.2 L161.4 351.0 L163.4 350.6 L165.4 350.2 L167.4 349.8 L169.4 349.3 L171.4 348.7 L173.4 348.0 L175.4 347.3 L177.4 346.5 L179.4 345.6 L181.4 344.7 L183.4 343.7 L185.4 342.6 L187.4 341.4 L189.4 340.1 L191.4 338.8 L193.4 337.5 L195.4 336.0 L197.4 334.5 L199.4 333.0 L201.4 331.3 L203.4 329.7 L205.4 328.0 L207.4 326.2 L209.4 324.4 L211.4 322.6 L213.4 320.8 L215.4 318.9 L217.4 317.1 L219.4 315.2 L221.4 313.3 L223.4 311.4 L225.4 309.5 L227.4 307.6 L229.4 305.7 L231.4 303.8 L233.4 301.9 L235.4 300.1 L237.4 298.3 L239.4 296.5 L241.4 294.7 L243.4 292.9 L245.4 291.2 L247.4 289.6 L249.4 287.9 L251.4 286.3 L253.4 284.8 L255.4 283.2 L257.4 281.8 L259.4 280.3 L261.4 278.9 L263.4 277.6 L265.4 276.3 L267.4 275.0 L269.4 273.8 L271.4 272.6 L273.4 271.5 L275.4 270.4 L277.4 269.4 L279.4 268.4 L281.4 267.5 L283.4 266.6 L285.4 265.8 L287.4 265.0 L289.4 264.2 L291.4 263.5 L293.4 262.8 L295.4 262.2 L297.4 261.6 L299.4 261.1 L301.4 260.6 L303.4 260.1 L305.4 259.7 L307.4 259.3 L309.4 259.0 L311.4 258.7 L313.4 258.4 L315.4 258.2 L317.4 257.9 L319.4 257.8 L321.4 257.6 L323.4 257.5 L325.4 257.4 L327.4 257.4 L329.4 257.3 L331.4 257.3 L333.4 257.4 L335.4 257.4 L337.4 257.5 L339.4 257.6 L341.4 257.7 L343.4 257.9 L345.4 258.0 L347.4 258.2 L349.4 258.4 L351.4 258.7 L353.4 258.9 L355.4 259.2 L357.4 259.4 L359.4 259.7 L361.4 260.0 L363.4 260.4 L365.4 260.7 L367.4 261.1 L369.4 261.4 L371.4 261.8 L373.4 262.2 L375.4 262.6 L377.4 263.0 L379.4 263.4 L381.4 263.8 L383.4 264.3 L385.4 264.7 L387.4 265.2 L389.4 265.6 L391.4 266.1 L393.4 266.6 L395.4 267.1 L397.4 267.6 L399.4 268.0 L401.4 268.5 L403.4 269.0 L405.4 269.6 L407.4 270.1 L409.4 270.6 L411.4 271.1 L413.4 271.6 L415.4 272.1 L417.4 272.7 L419.4 273.2 L421.4 273.7 L423.4 274.3 L425.4 274.8 L427.4 275.3 L429.4 275.9 L431.4 276.4 L433.4 276.9 L435.4 277.5 L437.4 278.0 L439.4 278.5 L441.4 279.1 L443.4 279.6 L445.4 280.1 L447.4 280.7 L449.4 281.2 L451.4 281.7 L453.4 282.3 L455.4 282.8 L457.4 283.3 L459.4 283.8 L461.4 284.4 L463.4 284.9 L465.4 285.4 L467.4 285.9 L469.4 286.5 L471.4 287.0 L473.4 287.5 L475.4 288.0 L477.4 288.5 L479.4 289.0 L481.4 289.5 L483.4 290.0 L485.4 290.5 L487.4 291.0 L489.4 291.5 L491.4 292.0 L493.4 292.5 L495.4 293.0 L497.4 293.4 L499.4 293.9 L501.4 294.4 L503.4 294.9 L505.4 295.3 L507.4 295.8 L509.4 296.3 L511.4 296.7 L513.4 297.2 L515.4 297.6 L517.4 298.1 L519.4 298.5 L521.4 299.0 L523.4 299.4 L525.4 299.9 L527.4 300.3 L529.4 300.7 L531.4 301.1 L533.4 301.6 L535.4 302.0 L537.4 302.4 L539.4 302.8 L541.4 303.2 L543.4 303.6 L545.4 304.0 L547.4 304.5 L549.4 304.9 L551.4 305.2 L553.4 305.6 L555.4 306.0 L557.4 306.4 L559.4 306.8 L561.4 307.2 L563.4 307.6 L565.4 307.9 L567.4 308.3 L569.4 308.7 L571.4 309.0 L573.4 309.4 L575.4 309.7 L577.4 310.1 L579.4 310.4 L581.4 310.8 L583.4 311.1 L585.4 311.5 L587.4 311.8 L589.4 312.2 L591.4 312.5 L593.4 312.8 L595.4 313.2 L597.4 313.5 L599.4 313.8 L601.4 314.1 L603.4 314.4 L605.4 314.7 L607.4 315.1 L609.4 315.4 L611.4 315.7 L613.4 316.0 L615.4 316.3 L617.4 316.6 L619.4 316.9 L621.4 317.2 L623.4 317.4 L625.4 317.7 L627.4 318.0 L629.4 318.3 L631.4 318.6 L633.4 318.8 L635.4 319.1 L637.4 319.4 L639.4 319.7 L641.4 319.9 L643.4 320.2 L645.4 320.5 L647.4 320.7 L649.4 321.0 L651.4 321.2 L653.4 321.5 L655.4 321.7 L657.4 322.0 L659.4 322.2 L661.4 322.5 L663.4 322.7 L665.4 322.9 L667.4 323.2 L669.4 323.4 L671.4 323.6 L673.4 323.9 L675.4 324.1" stroke="#000" stroke-width="2.4"/>
</g>
<g stroke="#3c3c3c" stroke-width="1.1" fill="none">
<path d="M108.9 0.5 H674.5 V352.35" stroke-width="1" stroke="#333"/>
<path d="M109.4 0.5 V102.9"/>
<path d="M109.4 125.6 V227"/>
<path d="M109.4 250 V352.35"/>
<path d="M100.3 352.2 H675" stroke-width="1"/>
<path d="M105.0 90.8 H109.4"/>
<path d="M105.0 79.2 H109.4"/>
<path d="M105.0 67.6 H109.4"/>
<path d="M105.0 56.0 H109.4"/>
<path d="M100.3 44.4 H109.4"/>
<path d="M105.0 32.8 H109.4"/>
<path d="M105.0 21.2 H109.4"/>
<path d="M105.0 9.6 H109.4"/>
<path d="M100.3 102.4 H109.4"/>
<path d="M100.3 146.0 H109.4"/>
<path d="M105.0 169.2 H109.4"/>
<path d="M100.3 192.5 H109.4"/>
<path d="M105.0 215.8 H109.4"/>
<path d="M105.0 323.2 H109.4"/>
<path d="M100.3 294.0 H109.4"/>
<path d="M105.0 264.8 H109.4"/>
<path d="M125.3 352.35 V356.8"/>
<path d="M149.4 352.35 V356.8"/>
<path d="M173.4 352.35 V356.8"/>
<path d="M197.5 352.35 V361.0"/>
<path d="M221.6 352.35 V356.8"/>
<path d="M245.6 352.35 V356.8"/>
<path d="M269.6 352.35 V356.8"/>
<path d="M293.7 352.35 V356.8"/>
<path d="M317.8 352.35 V361.0"/>
<path d="M341.8 352.35 V356.8"/>
<path d="M365.8 352.35 V356.8"/>
<path d="M389.9 352.35 V356.8"/>
<path d="M413.9 352.35 V356.8"/>
<path d="M438.0 352.35 V361.0"/>
<path d="M462.1 352.35 V356.8"/>
<path d="M486.1 352.35 V356.8"/>
<path d="M510.1 352.35 V356.8"/>
<path d="M534.2 352.35 V356.8"/>
<path d="M558.2 352.35 V361.0"/>
<path d="M582.3 352.35 V356.8"/>
<path d="M606.3 352.35 V356.8"/>
<path d="M630.4 352.35 V356.8"/>
<path d="M654.4 352.35 V356.8"/>
</g>
<rect x="552.6" y="213.3" width="110" height="76" fill="#fff" stroke="#3c3c3c" stroke-width="1"/>
<line x1="560.6" x2="583.7" y1="228.4" y2="228.4" stroke="#4a8dbd" stroke-width="2"/>
<line x1="560.6" x2="583.7" y1="251.9" y2="251.9" stroke="#cc3016" stroke-width="2"/>
<line x1="560.6" x2="583.7" y1="275.2" y2="275.2" stroke="#5cb83a" stroke-width="2"/>
</svg>
<div class="t r" style="top:35.4px;margin-right:1.5px">0.005</div>
<div class="t r" style="top:93.4px">0</div>
<div class="t r" style="top:137.0px">0.006</div>
<div class="t r" style="top:183.5px">0.004</div>
<div class="t r" style="top:285.0px">2×10<sup><span style="display:inline-block;transform:scaleX(.78);margin:0 -1.1px 0 -0.6px">−</span>5</sup></div>
<div class="t r" style="top:343.35px">0</div>
<div class="t c" style="left:197.7px;top:362.7px">5000</div>
<div class="t c" style="left:317.9px;top:362.7px">10000</div>
<div class="t c" style="left:438.2px;top:362.7px">15000</div>
<div class="t c" style="left:558.4px;top:362.7px">20000</div>
<div class="t l" style="left:317.5px;top:391.5px">Wavelength (nm)</div>
<div class="t v" style="left:-2.1px;top:85.4px">Energy</div>
<div class="t v" style="left:-2.1px;top:198.9px">Ratio</div>
<div class="t v" style="left:-2.1px;top:335.4px">Entropy</div>
<div class="t g" style="left:592.3px;top:219.0px">Energy</div>
<div class="t g" style="left:592.3px;top:242.05px">Entropy</div>
<div class="t g" style="left:592.3px;top:265.85px">Ratio</div>
</body></html>
